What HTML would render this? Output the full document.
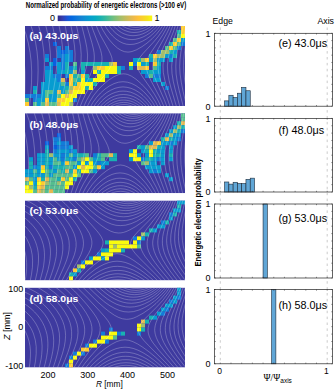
<!DOCTYPE html>
<html><head><meta charset="utf-8"><style>html,body{margin:0;padding:0;background:#fff;width:335px;height:390px;overflow:hidden}</style></head>
<body>
<svg xmlns="http://www.w3.org/2000/svg" width="335" height="390" viewBox="0 0 335 390" style="display:block">
<defs>
<linearGradient id="cb" x1="0" x2="1" y1="0" y2="0"><stop offset="0.000" stop-color="#352a87"/><stop offset="0.050" stop-color="#353eaf"/><stop offset="0.100" stop-color="#1b55d7"/><stop offset="0.150" stop-color="#036ae1"/><stop offset="0.200" stop-color="#0f77db"/><stop offset="0.250" stop-color="#1484d4"/><stop offset="0.300" stop-color="#0d93d2"/><stop offset="0.350" stop-color="#06a0cd"/><stop offset="0.400" stop-color="#07aac1"/><stop offset="0.450" stop-color="#18b1b2"/><stop offset="0.500" stop-color="#33b8a1"/><stop offset="0.550" stop-color="#55bd8e"/><stop offset="0.600" stop-color="#7abf7c"/><stop offset="0.650" stop-color="#9bbf6f"/><stop offset="0.700" stop-color="#b8bd63"/><stop offset="0.750" stop-color="#d3bb58"/><stop offset="0.800" stop-color="#ecb94c"/><stop offset="0.850" stop-color="#fec13a"/><stop offset="0.900" stop-color="#fad12b"/><stop offset="0.950" stop-color="#f5e31e"/><stop offset="1.000" stop-color="#f9fb0e"/></linearGradient>
<clipPath id="cp0"><rect x="25.0" y="26.0" width="160.0" height="80.0"/></clipPath>
<clipPath id="cp1"><rect x="25.0" y="113.2" width="160.0" height="80.0"/></clipPath>
<clipPath id="cp2"><rect x="25.0" y="200.4" width="160.0" height="80.0"/></clipPath>
<clipPath id="cp3"><rect x="25.0" y="287.6" width="160.0" height="80.0"/></clipPath>
</defs>
<rect width="335" height="390" fill="#fff"/>
<text x="25.8" y="7.5" font-size="8.7" font-weight="bold" font-family="Liberation Sans, sans-serif" textLength="160.4" lengthAdjust="spacingAndGlyphs" fill="#000">Normalized probability of energetic electrons (&gt;100 eV)</text>
<rect x="57.7" y="15.5" width="94.5" height="5.6" fill="url(#cb)"/>
<text x="52.5" y="20.7" font-size="9" font-family="Liberation Sans, sans-serif" text-anchor="middle">0</text>
<text x="157" y="20.7" font-size="9" font-family="Liberation Sans, sans-serif" text-anchor="middle">1</text>
<g clip-path="url(#cp0)">
<rect x="25.0" y="26.0" width="160.0" height="80.0" fill="#3e3a9f"/>
<rect x="181.0" y="26.0" width="4.02" height="4.02" fill="#fdcb30"/>
<rect x="177.0" y="30.0" width="4.02" height="4.02" fill="#18b1b2"/>
<rect x="181.0" y="30.0" width="4.02" height="4.02" fill="#fdcb30"/>
<rect x="177.0" y="34.0" width="4.02" height="4.02" fill="#55bd8e"/>
<rect x="181.0" y="34.0" width="4.02" height="4.02" fill="#f9fb0e"/>
<rect x="173.0" y="38.0" width="4.02" height="4.02" fill="#55bd8e"/>
<rect x="177.0" y="38.0" width="4.02" height="4.02" fill="#fdcb30"/>
<rect x="181.0" y="38.0" width="4.02" height="4.02" fill="#079cd0"/>
<rect x="53.0" y="42.0" width="4.02" height="4.02" fill="#0860df"/>
<rect x="169.0" y="42.0" width="4.02" height="4.02" fill="#18b1b2"/>
<rect x="173.0" y="42.0" width="4.02" height="4.02" fill="#fdcb30"/>
<rect x="177.0" y="42.0" width="4.02" height="4.02" fill="#55bd8e"/>
<rect x="181.0" y="42.0" width="4.02" height="4.02" fill="#127cd8"/>
<rect x="57.0" y="46.0" width="4.02" height="4.02" fill="#127cd8"/>
<rect x="65.0" y="46.0" width="4.02" height="4.02" fill="#127cd8"/>
<rect x="165.0" y="46.0" width="4.02" height="4.02" fill="#55bd8e"/>
<rect x="169.0" y="46.0" width="4.02" height="4.02" fill="#fdcb30"/>
<rect x="173.0" y="46.0" width="4.02" height="4.02" fill="#55bd8e"/>
<rect x="177.0" y="46.0" width="4.02" height="4.02" fill="#127cd8"/>
<rect x="57.0" y="50.0" width="4.02" height="4.02" fill="#127cd8"/>
<rect x="61.0" y="50.0" width="4.02" height="4.02" fill="#0860df"/>
<rect x="65.0" y="50.0" width="4.02" height="4.02" fill="#127cd8"/>
<rect x="69.0" y="50.0" width="4.02" height="4.02" fill="#127cd8"/>
<rect x="157.0" y="50.0" width="4.02" height="4.02" fill="#127cd8"/>
<rect x="161.0" y="50.0" width="4.02" height="4.02" fill="#a1be6c"/>
<rect x="165.0" y="50.0" width="4.02" height="4.02" fill="#a1be6c"/>
<rect x="169.0" y="50.0" width="4.02" height="4.02" fill="#18b1b2"/>
<rect x="173.0" y="50.0" width="4.02" height="4.02" fill="#079cd0"/>
<rect x="45.0" y="54.0" width="4.02" height="4.02" fill="#127cd8"/>
<rect x="57.0" y="54.0" width="4.02" height="4.02" fill="#127cd8"/>
<rect x="61.0" y="54.0" width="4.02" height="4.02" fill="#127cd8"/>
<rect x="65.0" y="54.0" width="4.02" height="4.02" fill="#079cd0"/>
<rect x="69.0" y="54.0" width="4.02" height="4.02" fill="#127cd8"/>
<rect x="149.0" y="54.0" width="4.02" height="4.02" fill="#18b1b2"/>
<rect x="153.0" y="54.0" width="4.02" height="4.02" fill="#fdcb30"/>
<rect x="157.0" y="54.0" width="4.02" height="4.02" fill="#a1be6c"/>
<rect x="161.0" y="54.0" width="4.02" height="4.02" fill="#a1be6c"/>
<rect x="165.0" y="54.0" width="4.02" height="4.02" fill="#079cd0"/>
<rect x="169.0" y="54.0" width="4.02" height="4.02" fill="#127cd8"/>
<rect x="173.0" y="54.0" width="4.02" height="4.02" fill="#18b1b2"/>
<rect x="45.0" y="58.0" width="4.02" height="4.02" fill="#079cd0"/>
<rect x="53.0" y="58.0" width="4.02" height="4.02" fill="#0860df"/>
<rect x="61.0" y="58.0" width="4.02" height="4.02" fill="#127cd8"/>
<rect x="65.0" y="58.0" width="4.02" height="4.02" fill="#079cd0"/>
<rect x="69.0" y="58.0" width="4.02" height="4.02" fill="#127cd8"/>
<rect x="133.0" y="58.0" width="4.02" height="4.02" fill="#079cd0"/>
<rect x="137.0" y="58.0" width="4.02" height="4.02" fill="#18b1b2"/>
<rect x="141.0" y="58.0" width="4.02" height="4.02" fill="#a1be6c"/>
<rect x="145.0" y="58.0" width="4.02" height="4.02" fill="#fdcb30"/>
<rect x="149.0" y="58.0" width="4.02" height="4.02" fill="#079cd0"/>
<rect x="153.0" y="58.0" width="4.02" height="4.02" fill="#a1be6c"/>
<rect x="157.0" y="58.0" width="4.02" height="4.02" fill="#079cd0"/>
<rect x="161.0" y="58.0" width="4.02" height="4.02" fill="#079cd0"/>
<rect x="169.0" y="58.0" width="4.02" height="4.02" fill="#079cd0"/>
<rect x="49.0" y="62.0" width="4.02" height="4.02" fill="#079cd0"/>
<rect x="53.0" y="62.0" width="4.02" height="4.02" fill="#0860df"/>
<rect x="57.0" y="62.0" width="4.02" height="4.02" fill="#079cd0"/>
<rect x="61.0" y="62.0" width="4.02" height="4.02" fill="#127cd8"/>
<rect x="65.0" y="62.0" width="4.02" height="4.02" fill="#18b1b2"/>
<rect x="73.0" y="62.0" width="4.02" height="4.02" fill="#55bd8e"/>
<rect x="81.0" y="62.0" width="4.02" height="4.02" fill="#18b1b2"/>
<rect x="85.0" y="62.0" width="4.02" height="4.02" fill="#18b1b2"/>
<rect x="89.0" y="62.0" width="4.02" height="4.02" fill="#18b1b2"/>
<rect x="93.0" y="62.0" width="4.02" height="4.02" fill="#18b1b2"/>
<rect x="97.0" y="62.0" width="4.02" height="4.02" fill="#18b1b2"/>
<rect x="101.0" y="62.0" width="4.02" height="4.02" fill="#18b1b2"/>
<rect x="105.0" y="62.0" width="4.02" height="4.02" fill="#18b1b2"/>
<rect x="109.0" y="62.0" width="4.02" height="4.02" fill="#a1be6c"/>
<rect x="113.0" y="62.0" width="4.02" height="4.02" fill="#fdcb30"/>
<rect x="129.0" y="62.0" width="4.02" height="4.02" fill="#f9fb0e"/>
<rect x="133.0" y="62.0" width="4.02" height="4.02" fill="#127cd8"/>
<rect x="137.0" y="62.0" width="4.02" height="4.02" fill="#f9fb0e"/>
<rect x="141.0" y="62.0" width="4.02" height="4.02" fill="#079cd0"/>
<rect x="145.0" y="62.0" width="4.02" height="4.02" fill="#18b1b2"/>
<rect x="153.0" y="62.0" width="4.02" height="4.02" fill="#fdcb30"/>
<rect x="157.0" y="62.0" width="4.02" height="4.02" fill="#18b1b2"/>
<rect x="45.0" y="66.0" width="4.02" height="4.02" fill="#127cd8"/>
<rect x="49.0" y="66.0" width="4.02" height="4.02" fill="#127cd8"/>
<rect x="57.0" y="66.0" width="4.02" height="4.02" fill="#079cd0"/>
<rect x="61.0" y="66.0" width="4.02" height="4.02" fill="#127cd8"/>
<rect x="65.0" y="66.0" width="4.02" height="4.02" fill="#18b1b2"/>
<rect x="69.0" y="66.0" width="4.02" height="4.02" fill="#127cd8"/>
<rect x="73.0" y="66.0" width="4.02" height="4.02" fill="#18b1b2"/>
<rect x="81.0" y="66.0" width="4.02" height="4.02" fill="#18b1b2"/>
<rect x="93.0" y="66.0" width="4.02" height="4.02" fill="#a1be6c"/>
<rect x="97.0" y="66.0" width="4.02" height="4.02" fill="#fdcb30"/>
<rect x="101.0" y="66.0" width="4.02" height="4.02" fill="#fdcb30"/>
<rect x="105.0" y="66.0" width="4.02" height="4.02" fill="#f9fb0e"/>
<rect x="109.0" y="66.0" width="4.02" height="4.02" fill="#f9fb0e"/>
<rect x="113.0" y="66.0" width="4.02" height="4.02" fill="#f9fb0e"/>
<rect x="117.0" y="66.0" width="4.02" height="4.02" fill="#18b1b2"/>
<rect x="121.0" y="66.0" width="4.02" height="4.02" fill="#127cd8"/>
<rect x="129.0" y="66.0" width="4.02" height="4.02" fill="#18b1b2"/>
<rect x="137.0" y="66.0" width="4.02" height="4.02" fill="#e2b951"/>
<rect x="141.0" y="66.0" width="4.02" height="4.02" fill="#e2b951"/>
<rect x="145.0" y="66.0" width="4.02" height="4.02" fill="#fdcb30"/>
<rect x="153.0" y="66.0" width="4.02" height="4.02" fill="#55bd8e"/>
<rect x="157.0" y="66.0" width="4.02" height="4.02" fill="#079cd0"/>
<rect x="45.0" y="70.0" width="4.02" height="4.02" fill="#079cd0"/>
<rect x="49.0" y="70.0" width="4.02" height="4.02" fill="#079cd0"/>
<rect x="57.0" y="70.0" width="4.02" height="4.02" fill="#079cd0"/>
<rect x="61.0" y="70.0" width="4.02" height="4.02" fill="#079cd0"/>
<rect x="65.0" y="70.0" width="4.02" height="4.02" fill="#18b1b2"/>
<rect x="69.0" y="70.0" width="4.02" height="4.02" fill="#079cd0"/>
<rect x="73.0" y="70.0" width="4.02" height="4.02" fill="#a1be6c"/>
<rect x="81.0" y="70.0" width="4.02" height="4.02" fill="#079cd0"/>
<rect x="93.0" y="70.0" width="4.02" height="4.02" fill="#f9fb0e"/>
<rect x="97.0" y="70.0" width="4.02" height="4.02" fill="#18b1b2"/>
<rect x="101.0" y="70.0" width="4.02" height="4.02" fill="#f9fb0e"/>
<rect x="105.0" y="70.0" width="4.02" height="4.02" fill="#f9fb0e"/>
<rect x="109.0" y="70.0" width="4.02" height="4.02" fill="#f9fb0e"/>
<rect x="113.0" y="70.0" width="4.02" height="4.02" fill="#f9fb0e"/>
<rect x="117.0" y="70.0" width="4.02" height="4.02" fill="#18b1b2"/>
<rect x="141.0" y="70.0" width="4.02" height="4.02" fill="#079cd0"/>
<rect x="145.0" y="70.0" width="4.02" height="4.02" fill="#079cd0"/>
<rect x="149.0" y="70.0" width="4.02" height="4.02" fill="#18b1b2"/>
<rect x="153.0" y="70.0" width="4.02" height="4.02" fill="#079cd0"/>
<rect x="157.0" y="70.0" width="4.02" height="4.02" fill="#079cd0"/>
<rect x="45.0" y="74.0" width="4.02" height="4.02" fill="#079cd0"/>
<rect x="49.0" y="74.0" width="4.02" height="4.02" fill="#079cd0"/>
<rect x="53.0" y="74.0" width="4.02" height="4.02" fill="#127cd8"/>
<rect x="57.0" y="74.0" width="4.02" height="4.02" fill="#127cd8"/>
<rect x="65.0" y="74.0" width="4.02" height="4.02" fill="#127cd8"/>
<rect x="69.0" y="74.0" width="4.02" height="4.02" fill="#fdcb30"/>
<rect x="73.0" y="74.0" width="4.02" height="4.02" fill="#18b1b2"/>
<rect x="77.0" y="74.0" width="4.02" height="4.02" fill="#55bd8e"/>
<rect x="81.0" y="74.0" width="4.02" height="4.02" fill="#fdcb30"/>
<rect x="85.0" y="74.0" width="4.02" height="4.02" fill="#18b1b2"/>
<rect x="97.0" y="74.0" width="4.02" height="4.02" fill="#f9fb0e"/>
<rect x="101.0" y="74.0" width="4.02" height="4.02" fill="#f9fb0e"/>
<rect x="105.0" y="74.0" width="4.02" height="4.02" fill="#18b1b2"/>
<rect x="145.0" y="74.0" width="4.02" height="4.02" fill="#127cd8"/>
<rect x="149.0" y="74.0" width="4.02" height="4.02" fill="#55bd8e"/>
<rect x="153.0" y="74.0" width="4.02" height="4.02" fill="#127cd8"/>
<rect x="157.0" y="74.0" width="4.02" height="4.02" fill="#127cd8"/>
<rect x="45.0" y="78.0" width="4.02" height="4.02" fill="#079cd0"/>
<rect x="49.0" y="78.0" width="4.02" height="4.02" fill="#079cd0"/>
<rect x="53.0" y="78.0" width="4.02" height="4.02" fill="#079cd0"/>
<rect x="57.0" y="78.0" width="4.02" height="4.02" fill="#127cd8"/>
<rect x="61.0" y="78.0" width="4.02" height="4.02" fill="#e2b951"/>
<rect x="69.0" y="78.0" width="4.02" height="4.02" fill="#fdcb30"/>
<rect x="73.0" y="78.0" width="4.02" height="4.02" fill="#55bd8e"/>
<rect x="77.0" y="78.0" width="4.02" height="4.02" fill="#18b1b2"/>
<rect x="81.0" y="78.0" width="4.02" height="4.02" fill="#f9fb0e"/>
<rect x="85.0" y="78.0" width="4.02" height="4.02" fill="#079cd0"/>
<rect x="89.0" y="78.0" width="4.02" height="4.02" fill="#18b1b2"/>
<rect x="93.0" y="78.0" width="4.02" height="4.02" fill="#f9fb0e"/>
<rect x="97.0" y="78.0" width="4.02" height="4.02" fill="#f9fb0e"/>
<rect x="101.0" y="78.0" width="4.02" height="4.02" fill="#f9fb0e"/>
<rect x="153.0" y="78.0" width="4.02" height="4.02" fill="#079cd0"/>
<rect x="157.0" y="78.0" width="4.02" height="4.02" fill="#079cd0"/>
<rect x="41.0" y="82.0" width="4.02" height="4.02" fill="#079cd0"/>
<rect x="45.0" y="82.0" width="4.02" height="4.02" fill="#079cd0"/>
<rect x="49.0" y="82.0" width="4.02" height="4.02" fill="#079cd0"/>
<rect x="53.0" y="82.0" width="4.02" height="4.02" fill="#079cd0"/>
<rect x="57.0" y="82.0" width="4.02" height="4.02" fill="#079cd0"/>
<rect x="61.0" y="82.0" width="4.02" height="4.02" fill="#55bd8e"/>
<rect x="65.0" y="82.0" width="4.02" height="4.02" fill="#127cd8"/>
<rect x="69.0" y="82.0" width="4.02" height="4.02" fill="#fdcb30"/>
<rect x="73.0" y="82.0" width="4.02" height="4.02" fill="#18b1b2"/>
<rect x="77.0" y="82.0" width="4.02" height="4.02" fill="#fdcb30"/>
<rect x="81.0" y="82.0" width="4.02" height="4.02" fill="#f9fb0e"/>
<rect x="85.0" y="82.0" width="4.02" height="4.02" fill="#f9fb0e"/>
<rect x="89.0" y="82.0" width="4.02" height="4.02" fill="#f9fb0e"/>
<rect x="93.0" y="82.0" width="4.02" height="4.02" fill="#18b1b2"/>
<rect x="161.0" y="82.0" width="4.02" height="4.02" fill="#079cd0"/>
<rect x="33.0" y="86.0" width="4.02" height="4.02" fill="#079cd0"/>
<rect x="41.0" y="86.0" width="4.02" height="4.02" fill="#079cd0"/>
<rect x="45.0" y="86.0" width="4.02" height="4.02" fill="#079cd0"/>
<rect x="49.0" y="86.0" width="4.02" height="4.02" fill="#079cd0"/>
<rect x="53.0" y="86.0" width="4.02" height="4.02" fill="#079cd0"/>
<rect x="57.0" y="86.0" width="4.02" height="4.02" fill="#079cd0"/>
<rect x="61.0" y="86.0" width="4.02" height="4.02" fill="#079cd0"/>
<rect x="65.0" y="86.0" width="4.02" height="4.02" fill="#18b1b2"/>
<rect x="69.0" y="86.0" width="4.02" height="4.02" fill="#a1be6c"/>
<rect x="73.0" y="86.0" width="4.02" height="4.02" fill="#fdcb30"/>
<rect x="77.0" y="86.0" width="4.02" height="4.02" fill="#fdcb30"/>
<rect x="81.0" y="86.0" width="4.02" height="4.02" fill="#f9fb0e"/>
<rect x="85.0" y="86.0" width="4.02" height="4.02" fill="#18b1b2"/>
<rect x="89.0" y="86.0" width="4.02" height="4.02" fill="#f9fb0e"/>
<rect x="165.0" y="86.0" width="4.02" height="4.02" fill="#127cd8"/>
<rect x="33.0" y="90.0" width="4.02" height="4.02" fill="#18b1b2"/>
<rect x="41.0" y="90.0" width="4.02" height="4.02" fill="#079cd0"/>
<rect x="45.0" y="90.0" width="4.02" height="4.02" fill="#55bd8e"/>
<rect x="49.0" y="90.0" width="4.02" height="4.02" fill="#55bd8e"/>
<rect x="53.0" y="90.0" width="4.02" height="4.02" fill="#079cd0"/>
<rect x="57.0" y="90.0" width="4.02" height="4.02" fill="#e2b951"/>
<rect x="61.0" y="90.0" width="4.02" height="4.02" fill="#079cd0"/>
<rect x="65.0" y="90.0" width="4.02" height="4.02" fill="#55bd8e"/>
<rect x="69.0" y="90.0" width="4.02" height="4.02" fill="#e2b951"/>
<rect x="73.0" y="90.0" width="4.02" height="4.02" fill="#f9fb0e"/>
<rect x="77.0" y="90.0" width="4.02" height="4.02" fill="#f9fb0e"/>
<rect x="81.0" y="90.0" width="4.02" height="4.02" fill="#f9fb0e"/>
<rect x="25.0" y="94.0" width="4.02" height="4.02" fill="#127cd8"/>
<rect x="29.0" y="94.0" width="4.02" height="4.02" fill="#127cd8"/>
<rect x="33.0" y="94.0" width="4.02" height="4.02" fill="#127cd8"/>
<rect x="37.0" y="94.0" width="4.02" height="4.02" fill="#127cd8"/>
<rect x="41.0" y="94.0" width="4.02" height="4.02" fill="#079cd0"/>
<rect x="45.0" y="94.0" width="4.02" height="4.02" fill="#55bd8e"/>
<rect x="49.0" y="94.0" width="4.02" height="4.02" fill="#079cd0"/>
<rect x="53.0" y="94.0" width="4.02" height="4.02" fill="#079cd0"/>
<rect x="57.0" y="94.0" width="4.02" height="4.02" fill="#55bd8e"/>
<rect x="61.0" y="94.0" width="4.02" height="4.02" fill="#f9fb0e"/>
<rect x="65.0" y="94.0" width="4.02" height="4.02" fill="#e2b951"/>
<rect x="69.0" y="94.0" width="4.02" height="4.02" fill="#f9fb0e"/>
<rect x="73.0" y="94.0" width="4.02" height="4.02" fill="#f9fb0e"/>
<rect x="25.0" y="98.0" width="4.02" height="4.02" fill="#55bd8e"/>
<rect x="33.0" y="98.0" width="4.02" height="4.02" fill="#127cd8"/>
<rect x="37.0" y="98.0" width="4.02" height="4.02" fill="#079cd0"/>
<rect x="41.0" y="98.0" width="4.02" height="4.02" fill="#079cd0"/>
<rect x="45.0" y="98.0" width="4.02" height="4.02" fill="#fdcb30"/>
<rect x="49.0" y="98.0" width="4.02" height="4.02" fill="#079cd0"/>
<rect x="53.0" y="98.0" width="4.02" height="4.02" fill="#079cd0"/>
<rect x="57.0" y="98.0" width="4.02" height="4.02" fill="#fdcb30"/>
<rect x="61.0" y="98.0" width="4.02" height="4.02" fill="#fdcb30"/>
<rect x="65.0" y="98.0" width="4.02" height="4.02" fill="#f9fb0e"/>
<rect x="69.0" y="98.0" width="4.02" height="4.02" fill="#f9fb0e"/>
<rect x="73.0" y="98.0" width="4.02" height="4.02" fill="#127cd8"/>
<rect x="25.0" y="102.0" width="4.02" height="4.02" fill="#fdcb30"/>
<rect x="33.0" y="102.0" width="4.02" height="4.02" fill="#55bd8e"/>
<rect x="37.0" y="102.0" width="4.02" height="4.02" fill="#079cd0"/>
<rect x="41.0" y="102.0" width="4.02" height="4.02" fill="#55bd8e"/>
<rect x="45.0" y="102.0" width="4.02" height="4.02" fill="#e2b951"/>
<rect x="49.0" y="102.0" width="4.02" height="4.02" fill="#55bd8e"/>
<rect x="53.0" y="102.0" width="4.02" height="4.02" fill="#55bd8e"/>
<rect x="57.0" y="102.0" width="4.02" height="4.02" fill="#e2b951"/>
<rect x="61.0" y="102.0" width="4.02" height="4.02" fill="#f9fb0e"/>
<rect x="65.0" y="102.0" width="4.02" height="4.02" fill="#f9fb0e"/>
<rect x="69.0" y="102.0" width="4.02" height="4.02" fill="#a1be6c"/>
<path d="M131.9,108.0 128.0,106.8 124.0,106.4 120.0,106.8 115.9,108.0M135.9,108.0 133.0,106.5 130.0,105.4 127.0,104.7 124.0,104.5 120.5,104.8 117.5,105.4 114.5,106.6 111.8,108.0M129.2,24.0 132.5,24.9 136.0,25.2 139.5,25.0 143.3,24.0M139.1,108.0 135.5,105.6 131.5,103.8 127.5,102.7 123.5,102.4 119.5,102.8 115.5,103.9 112.0,105.5 108.4,108.0M124.0,24.0 126.5,25.3 129.5,26.5 132.5,27.1 135.5,27.4 138.5,27.2 141.5,26.6 144.5,25.5 147.6,24.0M142.0,108.0 138.0,104.7 133.5,102.2 131.0,101.2 128.5,100.6 126.0,100.2 123.5,100.1 121.0,100.2 118.5,100.6 114.0,102.1 109.5,104.5 107.5,106.0 105.2,108.0M119.8,24.0 123.3,26.5 127.0,28.3 131.0,29.4 135.0,29.8 139.0,29.4 143.0,28.3 147.0,26.5 150.8,24.0M144.8,108.0 142.5,105.5 140.1,103.5 137.5,101.7 135.0,100.3 132.5,99.2 129.5,98.2 126.5,97.7 123.5,97.5 120.5,97.7 117.5,98.2 114.5,99.1 112.0,100.2 109.5,101.6 106.8,103.5 104.5,105.5 102.2,108.0M115.8,24.0 117.8,26.0 120.0,27.7 122.0,29.1 124.5,30.4 129.0,31.9 131.5,32.3 134.0,32.5 137.0,32.3 139.5,31.9 142.0,31.2 144.5,30.2 147.0,29.0 149.5,27.4 153.7,24.0M147.6,108.0 145.1,105.0 142.5,102.4 139.5,100.0 136.5,98.1 133.5,96.6 130.0,95.4 127.0,94.8 123.5,94.5 120.0,94.7 117.0,95.3 114.0,96.3 110.5,97.9 107.5,99.8 104.5,102.1 101.6,105.0 99.1,108.0M111.9,24.0 114.0,26.5 116.5,29.0 119.0,31.0 121.5,32.6 124.0,33.8 127.0,34.9 130.0,35.5 133.0,35.7 136.0,35.5 139.5,34.9 142.5,33.9 145.5,32.6 148.5,30.8 151.5,28.6 154.0,26.4 156.3,24.0M150.3,108.0 147.5,104.1 144.5,100.8 141.0,97.7 137.5,95.3 134.0,93.5 130.5,92.1 126.5,91.3 123.0,91.1 119.5,91.3 115.5,92.3 112.0,93.6 108.5,95.5 105.0,98.0 101.7,101.0 98.6,104.5 96.1,108.0M108.0,24.0 110.4,27.5 113.0,30.5 116.0,33.4 119.0,35.6 122.0,37.3 125.5,38.6 128.5,39.3 132.0,39.6 135.5,39.3 139.5,38.3 143.0,37.0 146.5,35.2 150.0,32.9 153.0,30.4 156.0,27.4 158.8,24.0M153.1,108.0 150.0,103.3 146.5,99.0 143.0,95.5 139.0,92.4 135.0,90.0 131.0,88.3 127.0,87.3 123.0,86.9 119.0,87.3 115.0,88.3 110.5,90.3 106.5,92.7 102.5,95.9 99.0,99.5 95.8,103.5 93.0,108.0M104.0,24.0 106.5,28.3 109.5,32.5 112.5,35.9 116.0,39.1 119.5,41.5 123.0,43.2 126.5,44.2 130.0,44.5 134.0,44.2 138.0,43.1 142.5,41.2 146.5,38.9 150.5,36.0 154.5,32.4 158.0,28.5 161.2,24.0M155.8,108.0 152.7,102.5 149.0,97.5 145.0,93.0 140.5,88.9 136.0,85.7 131.5,83.4 127.5,82.2 123.0,81.7 118.5,82.2 114.0,83.6 109.5,85.9 105.0,89.0 100.5,93.0 96.5,97.5 92.9,102.5 89.8,108.0M99.9,24.0 102.8,30.0 106.0,35.2 109.5,40.0 113.5,44.5 117.5,48.1 121.0,50.3 124.5,51.7 128.0,52.1 130.0,51.9 132.0,51.5 136.5,49.8 142.0,46.7 147.0,43.1 152.0,38.8 156.5,34.1 160.5,29.0 163.7,24.0M158.7,108.0 155.5,101.9 151.5,95.7 146.5,89.3 141.5,84.0 136.0,79.2 131.5,76.2 127.5,74.4 125.5,74.0 123.5,73.8 121.5,74.0 119.0,74.5 116.5,75.5 114.0,76.7 108.5,80.2 103.0,84.8 98.0,90.0 93.5,95.7 89.8,101.5 86.5,108.0M95.6,24.0 97.8,29.5 100.3,35.0 108.6,50.0 110.5,54.0 111.5,56.5 112.0,58.5 112.2,60.5 112.1,62.5 111.7,64.0 111.0,66.0 108.9,69.5 106.3,73.0 96.5,84.9 90.8,93.0 86.5,100.5 83.1,108.0M161.5,108.0 158.5,101.4 154.5,94.3 150.5,88.2 142.3,76.5 139.8,72.5 138.5,70.0 137.8,68.0 137.4,66.0 137.3,64.0 137.6,62.0 138.2,60.5 140.2,57.0 143.0,53.5 153.0,42.7 158.0,36.8 162.5,30.4 166.1,24.0M91.0,24.0 93.2,30.5 98.8,45.0 100.7,50.5 101.4,53.5 101.9,56.5 102.0,59.5 101.8,62.0 100.8,66.5 98.9,71.0 96.5,75.5 89.5,87.2 85.7,94.0 82.4,101.0 79.6,108.0M164.5,108.0 162.4,103.0 160.0,97.7 151.4,81.5 148.7,76.0 147.6,73.0 146.8,70.0 146.4,67.5 146.3,65.0 146.6,62.5 147.2,60.0 148.2,57.5 149.4,55.0 152.2,50.5 159.5,39.9 163.0,34.5 166.0,29.2 168.5,24.0M86.3,24.0 91.8,42.5 93.4,49.0 94.0,52.5 94.3,56.0 94.3,59.0 94.1,62.0 93.1,67.0 91.2,72.5 89.1,77.5 80.6,95.5 78.0,102.0 76.0,108.0M167.5,108.0 164.2,99.5 157.1,83.5 154.8,77.5 153.8,74.0 153.1,71.0 152.8,68.0 152.7,65.5 153.0,63.0 153.5,60.0 154.5,57.0 155.7,54.0 158.4,48.5 166.7,33.5 169.0,28.7 170.9,24.0M81.3,24.0 85.3,40.0 86.8,47.5 87.6,55.0 87.3,61.5 86.3,67.5 84.6,73.5 82.7,79.0 75.9,96.5 72.2,108.0M170.5,108.0 167.8,100.0 161.9,84.5 160.1,79.0 159.2,75.5 158.5,72.0 158.2,68.5 158.1,65.5 158.4,62.5 158.9,59.5 160.7,53.5 163.2,47.5 170.0,32.9 173.4,24.0M76.1,24.0 79.1,38.0 80.6,46.5 81.2,54.5 81.0,61.5 80.1,67.5 78.5,74.5 71.1,97.5 68.2,108.0M173.7,108.0 166.6,86.5 164.8,80.0 163.3,72.5 163.0,66.0 163.2,63.0 163.7,59.5 165.3,53.0 167.4,47.0 173.3,32.0 175.9,24.0M70.6,24.0 73.2,37.0 74.5,46.0 75.1,54.0 74.9,61.5 74.1,68.0 72.6,75.5 66.3,99.0 64.1,108.0M176.9,108.0 171.0,88.0 169.1,80.5 167.8,73.0 167.4,66.0 168.0,59.5 169.5,52.5 171.3,46.5 176.3,31.5 178.5,24.0M64.8,24.0 67.0,35.5 68.4,45.0 69.0,53.5 68.8,61.5 68.2,68.5 66.8,76.5 59.8,108.0M180.2,108.0 175.2,89.5 173.3,81.5 172.0,73.5 171.7,66.5 172.2,59.5 173.4,52.5 175.0,46.0 179.5,30.5 181.1,24.0M58.7,24.0 60.9,35.0 62.2,44.5 62.9,53.0 62.8,61.5 62.3,69.0 61.1,77.5 55.3,108.0M183.6,108.0 179.2,90.5 177.3,82.0 176.1,74.0 175.8,66.5 176.1,59.5 177.2,52.0 183.7,24.0M52.2,24.0 54.4,34.5 55.9,44.0 56.7,53.0 56.8,61.5 56.4,69.5 55.4,78.5 50.6,108.0M187.0,107.9 183.1,91.5 181.3,82.5 180.1,74.0 179.7,66.5 180.0,59.5 180.9,52.0 186.4,24.0M45.4,24.0 47.8,34.0 49.4,43.5 50.3,52.5 50.7,61.5 50.4,70.0 49.6,79.5 48.4,89.5 45.6,108.0M187.0,92.4 185.4,84.5 184.4,78.0 183.8,71.5 183.6,65.5 183.8,59.5 184.4,53.0 185.4,46.0 187.0,36.8M38.2,24.0 40.6,33.0 42.5,42.5 43.8,52.0 44.4,61.5 44.3,70.5 43.7,80.5 42.6,91.5 40.5,108.0M30.4,24.0 33.3,33.0 35.5,42.0 37.0,51.5 37.9,61.0 38.1,70.5 37.8,81.0 36.8,93.0 35.1,108.0M23.0,25.9 26.0,34.3 28.3,43.0 30.1,52.5 31.2,62.0 31.7,72.0 31.5,82.5 30.8,94.0 29.4,108.0M23.0,53.3 23.9,59.0 24.5,65.0 25.0,71.5 25.1,78.0 24.8,92.0 23.4,108.0" fill="none" stroke="#ffffff" stroke-opacity="0.5" stroke-width="0.5"/>
</g>
<text x="29.4" y="38.8" font-size="9.7" font-weight="bold" font-family="Liberation Sans, sans-serif" fill="#fff" textLength="49" lengthAdjust="spacingAndGlyphs">(a) 43.0μs</text>
<g clip-path="url(#cp1)">
<rect x="25.0" y="113.2" width="160.0" height="80.0" fill="#3e3a9f"/>
<rect x="181.0" y="113.2" width="4.02" height="4.02" fill="#55bd8e"/>
<rect x="181.0" y="117.2" width="4.02" height="4.02" fill="#55bd8e"/>
<rect x="177.0" y="121.2" width="4.02" height="4.02" fill="#18b1b2"/>
<rect x="181.0" y="121.2" width="4.02" height="4.02" fill="#e2b951"/>
<rect x="173.0" y="125.2" width="4.02" height="4.02" fill="#079cd0"/>
<rect x="177.0" y="125.2" width="4.02" height="4.02" fill="#a1be6c"/>
<rect x="181.0" y="125.2" width="4.02" height="4.02" fill="#18b1b2"/>
<rect x="169.0" y="129.2" width="4.02" height="4.02" fill="#079cd0"/>
<rect x="173.0" y="129.2" width="4.02" height="4.02" fill="#a1be6c"/>
<rect x="177.0" y="129.2" width="4.02" height="4.02" fill="#18b1b2"/>
<rect x="181.0" y="129.2" width="4.02" height="4.02" fill="#127cd8"/>
<rect x="57.0" y="133.2" width="4.02" height="4.02" fill="#0860df"/>
<rect x="165.0" y="133.2" width="4.02" height="4.02" fill="#079cd0"/>
<rect x="169.0" y="133.2" width="4.02" height="4.02" fill="#a1be6c"/>
<rect x="173.0" y="133.2" width="4.02" height="4.02" fill="#079cd0"/>
<rect x="177.0" y="133.2" width="4.02" height="4.02" fill="#079cd0"/>
<rect x="53.0" y="137.2" width="4.02" height="4.02" fill="#127cd8"/>
<rect x="57.0" y="137.2" width="4.02" height="4.02" fill="#127cd8"/>
<rect x="161.0" y="137.2" width="4.02" height="4.02" fill="#18b1b2"/>
<rect x="165.0" y="137.2" width="4.02" height="4.02" fill="#e2b951"/>
<rect x="169.0" y="137.2" width="4.02" height="4.02" fill="#18b1b2"/>
<rect x="173.0" y="137.2" width="4.02" height="4.02" fill="#079cd0"/>
<rect x="177.0" y="137.2" width="4.02" height="4.02" fill="#127cd8"/>
<rect x="45.0" y="141.2" width="4.02" height="4.02" fill="#0860df"/>
<rect x="53.0" y="141.2" width="4.02" height="4.02" fill="#127cd8"/>
<rect x="57.0" y="141.2" width="4.02" height="4.02" fill="#079cd0"/>
<rect x="61.0" y="141.2" width="4.02" height="4.02" fill="#127cd8"/>
<rect x="65.0" y="141.2" width="4.02" height="4.02" fill="#127cd8"/>
<rect x="149.0" y="141.2" width="4.02" height="4.02" fill="#079cd0"/>
<rect x="153.0" y="141.2" width="4.02" height="4.02" fill="#e2b951"/>
<rect x="157.0" y="141.2" width="4.02" height="4.02" fill="#fdcb30"/>
<rect x="161.0" y="141.2" width="4.02" height="4.02" fill="#079cd0"/>
<rect x="165.0" y="141.2" width="4.02" height="4.02" fill="#079cd0"/>
<rect x="169.0" y="141.2" width="4.02" height="4.02" fill="#127cd8"/>
<rect x="173.0" y="141.2" width="4.02" height="4.02" fill="#079cd0"/>
<rect x="45.0" y="145.2" width="4.02" height="4.02" fill="#079cd0"/>
<rect x="53.0" y="145.2" width="4.02" height="4.02" fill="#0860df"/>
<rect x="57.0" y="145.2" width="4.02" height="4.02" fill="#127cd8"/>
<rect x="61.0" y="145.2" width="4.02" height="4.02" fill="#127cd8"/>
<rect x="65.0" y="145.2" width="4.02" height="4.02" fill="#127cd8"/>
<rect x="69.0" y="145.2" width="4.02" height="4.02" fill="#079cd0"/>
<rect x="137.0" y="145.2" width="4.02" height="4.02" fill="#18b1b2"/>
<rect x="141.0" y="145.2" width="4.02" height="4.02" fill="#079cd0"/>
<rect x="145.0" y="145.2" width="4.02" height="4.02" fill="#55bd8e"/>
<rect x="149.0" y="145.2" width="4.02" height="4.02" fill="#e2b951"/>
<rect x="153.0" y="145.2" width="4.02" height="4.02" fill="#e2b951"/>
<rect x="157.0" y="145.2" width="4.02" height="4.02" fill="#18b1b2"/>
<rect x="161.0" y="145.2" width="4.02" height="4.02" fill="#079cd0"/>
<rect x="169.0" y="145.2" width="4.02" height="4.02" fill="#079cd0"/>
<rect x="45.0" y="149.2" width="4.02" height="4.02" fill="#18b1b2"/>
<rect x="53.0" y="149.2" width="4.02" height="4.02" fill="#127cd8"/>
<rect x="57.0" y="149.2" width="4.02" height="4.02" fill="#079cd0"/>
<rect x="61.0" y="149.2" width="4.02" height="4.02" fill="#079cd0"/>
<rect x="65.0" y="149.2" width="4.02" height="4.02" fill="#079cd0"/>
<rect x="69.0" y="149.2" width="4.02" height="4.02" fill="#127cd8"/>
<rect x="73.0" y="149.2" width="4.02" height="4.02" fill="#079cd0"/>
<rect x="129.0" y="149.2" width="4.02" height="4.02" fill="#079cd0"/>
<rect x="133.0" y="149.2" width="4.02" height="4.02" fill="#f9fb0e"/>
<rect x="141.0" y="149.2" width="4.02" height="4.02" fill="#079cd0"/>
<rect x="145.0" y="149.2" width="4.02" height="4.02" fill="#18b1b2"/>
<rect x="149.0" y="149.2" width="4.02" height="4.02" fill="#f9fb0e"/>
<rect x="153.0" y="149.2" width="4.02" height="4.02" fill="#18b1b2"/>
<rect x="157.0" y="149.2" width="4.02" height="4.02" fill="#079cd0"/>
<rect x="161.0" y="149.2" width="4.02" height="4.02" fill="#079cd0"/>
<rect x="169.0" y="149.2" width="4.02" height="4.02" fill="#079cd0"/>
<rect x="37.0" y="153.2" width="4.02" height="4.02" fill="#079cd0"/>
<rect x="41.0" y="153.2" width="4.02" height="4.02" fill="#079cd0"/>
<rect x="45.0" y="153.2" width="4.02" height="4.02" fill="#18b1b2"/>
<rect x="49.0" y="153.2" width="4.02" height="4.02" fill="#a1be6c"/>
<rect x="53.0" y="153.2" width="4.02" height="4.02" fill="#079cd0"/>
<rect x="57.0" y="153.2" width="4.02" height="4.02" fill="#079cd0"/>
<rect x="61.0" y="153.2" width="4.02" height="4.02" fill="#127cd8"/>
<rect x="65.0" y="153.2" width="4.02" height="4.02" fill="#079cd0"/>
<rect x="69.0" y="153.2" width="4.02" height="4.02" fill="#55bd8e"/>
<rect x="73.0" y="153.2" width="4.02" height="4.02" fill="#079cd0"/>
<rect x="77.0" y="153.2" width="4.02" height="4.02" fill="#18b1b2"/>
<rect x="81.0" y="153.2" width="4.02" height="4.02" fill="#18b1b2"/>
<rect x="85.0" y="153.2" width="4.02" height="4.02" fill="#55bd8e"/>
<rect x="93.0" y="153.2" width="4.02" height="4.02" fill="#127cd8"/>
<rect x="97.0" y="153.2" width="4.02" height="4.02" fill="#18b1b2"/>
<rect x="101.0" y="153.2" width="4.02" height="4.02" fill="#55bd8e"/>
<rect x="105.0" y="153.2" width="4.02" height="4.02" fill="#55bd8e"/>
<rect x="109.0" y="153.2" width="4.02" height="4.02" fill="#e2b951"/>
<rect x="113.0" y="153.2" width="4.02" height="4.02" fill="#18b1b2"/>
<rect x="129.0" y="153.2" width="4.02" height="4.02" fill="#f9fb0e"/>
<rect x="133.0" y="153.2" width="4.02" height="4.02" fill="#f9fb0e"/>
<rect x="137.0" y="153.2" width="4.02" height="4.02" fill="#079cd0"/>
<rect x="145.0" y="153.2" width="4.02" height="4.02" fill="#079cd0"/>
<rect x="149.0" y="153.2" width="4.02" height="4.02" fill="#f9fb0e"/>
<rect x="153.0" y="153.2" width="4.02" height="4.02" fill="#18b1b2"/>
<rect x="157.0" y="153.2" width="4.02" height="4.02" fill="#18b1b2"/>
<rect x="161.0" y="153.2" width="4.02" height="4.02" fill="#079cd0"/>
<rect x="169.0" y="153.2" width="4.02" height="4.02" fill="#18b1b2"/>
<rect x="29.0" y="157.2" width="4.02" height="4.02" fill="#079cd0"/>
<rect x="37.0" y="157.2" width="4.02" height="4.02" fill="#079cd0"/>
<rect x="41.0" y="157.2" width="4.02" height="4.02" fill="#079cd0"/>
<rect x="45.0" y="157.2" width="4.02" height="4.02" fill="#18b1b2"/>
<rect x="49.0" y="157.2" width="4.02" height="4.02" fill="#079cd0"/>
<rect x="53.0" y="157.2" width="4.02" height="4.02" fill="#55bd8e"/>
<rect x="57.0" y="157.2" width="4.02" height="4.02" fill="#079cd0"/>
<rect x="61.0" y="157.2" width="4.02" height="4.02" fill="#127cd8"/>
<rect x="65.0" y="157.2" width="4.02" height="4.02" fill="#18b1b2"/>
<rect x="69.0" y="157.2" width="4.02" height="4.02" fill="#079cd0"/>
<rect x="73.0" y="157.2" width="4.02" height="4.02" fill="#127cd8"/>
<rect x="77.0" y="157.2" width="4.02" height="4.02" fill="#55bd8e"/>
<rect x="81.0" y="157.2" width="4.02" height="4.02" fill="#a1be6c"/>
<rect x="85.0" y="157.2" width="4.02" height="4.02" fill="#f9fb0e"/>
<rect x="89.0" y="157.2" width="4.02" height="4.02" fill="#55bd8e"/>
<rect x="93.0" y="157.2" width="4.02" height="4.02" fill="#079cd0"/>
<rect x="97.0" y="157.2" width="4.02" height="4.02" fill="#18b1b2"/>
<rect x="101.0" y="157.2" width="4.02" height="4.02" fill="#55bd8e"/>
<rect x="109.0" y="157.2" width="4.02" height="4.02" fill="#18b1b2"/>
<rect x="113.0" y="157.2" width="4.02" height="4.02" fill="#18b1b2"/>
<rect x="129.0" y="157.2" width="4.02" height="4.02" fill="#079cd0"/>
<rect x="133.0" y="157.2" width="4.02" height="4.02" fill="#f9fb0e"/>
<rect x="137.0" y="157.2" width="4.02" height="4.02" fill="#f9fb0e"/>
<rect x="141.0" y="157.2" width="4.02" height="4.02" fill="#127cd8"/>
<rect x="145.0" y="157.2" width="4.02" height="4.02" fill="#18b1b2"/>
<rect x="149.0" y="157.2" width="4.02" height="4.02" fill="#18b1b2"/>
<rect x="153.0" y="157.2" width="4.02" height="4.02" fill="#079cd0"/>
<rect x="157.0" y="157.2" width="4.02" height="4.02" fill="#127cd8"/>
<rect x="161.0" y="157.2" width="4.02" height="4.02" fill="#079cd0"/>
<rect x="169.0" y="157.2" width="4.02" height="4.02" fill="#079cd0"/>
<rect x="29.0" y="161.2" width="4.02" height="4.02" fill="#18b1b2"/>
<rect x="37.0" y="161.2" width="4.02" height="4.02" fill="#079cd0"/>
<rect x="41.0" y="161.2" width="4.02" height="4.02" fill="#079cd0"/>
<rect x="45.0" y="161.2" width="4.02" height="4.02" fill="#18b1b2"/>
<rect x="49.0" y="161.2" width="4.02" height="4.02" fill="#079cd0"/>
<rect x="53.0" y="161.2" width="4.02" height="4.02" fill="#55bd8e"/>
<rect x="57.0" y="161.2" width="4.02" height="4.02" fill="#55bd8e"/>
<rect x="61.0" y="161.2" width="4.02" height="4.02" fill="#079cd0"/>
<rect x="65.0" y="161.2" width="4.02" height="4.02" fill="#fdcb30"/>
<rect x="69.0" y="161.2" width="4.02" height="4.02" fill="#55bd8e"/>
<rect x="73.0" y="161.2" width="4.02" height="4.02" fill="#55bd8e"/>
<rect x="77.0" y="161.2" width="4.02" height="4.02" fill="#079cd0"/>
<rect x="81.0" y="161.2" width="4.02" height="4.02" fill="#f9fb0e"/>
<rect x="85.0" y="161.2" width="4.02" height="4.02" fill="#079cd0"/>
<rect x="89.0" y="161.2" width="4.02" height="4.02" fill="#f9fb0e"/>
<rect x="93.0" y="161.2" width="4.02" height="4.02" fill="#079cd0"/>
<rect x="97.0" y="161.2" width="4.02" height="4.02" fill="#127cd8"/>
<rect x="101.0" y="161.2" width="4.02" height="4.02" fill="#079cd0"/>
<rect x="105.0" y="161.2" width="4.02" height="4.02" fill="#079cd0"/>
<rect x="141.0" y="161.2" width="4.02" height="4.02" fill="#55bd8e"/>
<rect x="145.0" y="161.2" width="4.02" height="4.02" fill="#a1be6c"/>
<rect x="149.0" y="161.2" width="4.02" height="4.02" fill="#079cd0"/>
<rect x="153.0" y="161.2" width="4.02" height="4.02" fill="#079cd0"/>
<rect x="161.0" y="161.2" width="4.02" height="4.02" fill="#079cd0"/>
<rect x="29.0" y="165.2" width="4.02" height="4.02" fill="#18b1b2"/>
<rect x="33.0" y="165.2" width="4.02" height="4.02" fill="#127cd8"/>
<rect x="37.0" y="165.2" width="4.02" height="4.02" fill="#079cd0"/>
<rect x="41.0" y="165.2" width="4.02" height="4.02" fill="#fdcb30"/>
<rect x="45.0" y="165.2" width="4.02" height="4.02" fill="#18b1b2"/>
<rect x="49.0" y="165.2" width="4.02" height="4.02" fill="#127cd8"/>
<rect x="53.0" y="165.2" width="4.02" height="4.02" fill="#18b1b2"/>
<rect x="57.0" y="165.2" width="4.02" height="4.02" fill="#18b1b2"/>
<rect x="61.0" y="165.2" width="4.02" height="4.02" fill="#18b1b2"/>
<rect x="65.0" y="165.2" width="4.02" height="4.02" fill="#55bd8e"/>
<rect x="69.0" y="165.2" width="4.02" height="4.02" fill="#55bd8e"/>
<rect x="73.0" y="165.2" width="4.02" height="4.02" fill="#079cd0"/>
<rect x="77.0" y="165.2" width="4.02" height="4.02" fill="#f9fb0e"/>
<rect x="81.0" y="165.2" width="4.02" height="4.02" fill="#e2b951"/>
<rect x="85.0" y="165.2" width="4.02" height="4.02" fill="#f9fb0e"/>
<rect x="89.0" y="165.2" width="4.02" height="4.02" fill="#f9fb0e"/>
<rect x="93.0" y="165.2" width="4.02" height="4.02" fill="#55bd8e"/>
<rect x="97.0" y="165.2" width="4.02" height="4.02" fill="#fdcb30"/>
<rect x="101.0" y="165.2" width="4.02" height="4.02" fill="#079cd0"/>
<rect x="145.0" y="165.2" width="4.02" height="4.02" fill="#079cd0"/>
<rect x="149.0" y="165.2" width="4.02" height="4.02" fill="#079cd0"/>
<rect x="153.0" y="165.2" width="4.02" height="4.02" fill="#079cd0"/>
<rect x="157.0" y="165.2" width="4.02" height="4.02" fill="#079cd0"/>
<rect x="25.0" y="169.2" width="4.02" height="4.02" fill="#079cd0"/>
<rect x="29.0" y="169.2" width="4.02" height="4.02" fill="#079cd0"/>
<rect x="33.0" y="169.2" width="4.02" height="4.02" fill="#55bd8e"/>
<rect x="37.0" y="169.2" width="4.02" height="4.02" fill="#079cd0"/>
<rect x="41.0" y="169.2" width="4.02" height="4.02" fill="#f9fb0e"/>
<rect x="45.0" y="169.2" width="4.02" height="4.02" fill="#55bd8e"/>
<rect x="49.0" y="169.2" width="4.02" height="4.02" fill="#18b1b2"/>
<rect x="53.0" y="169.2" width="4.02" height="4.02" fill="#079cd0"/>
<rect x="57.0" y="169.2" width="4.02" height="4.02" fill="#55bd8e"/>
<rect x="61.0" y="169.2" width="4.02" height="4.02" fill="#18b1b2"/>
<rect x="65.0" y="169.2" width="4.02" height="4.02" fill="#e2b951"/>
<rect x="69.0" y="169.2" width="4.02" height="4.02" fill="#18b1b2"/>
<rect x="73.0" y="169.2" width="4.02" height="4.02" fill="#fdcb30"/>
<rect x="77.0" y="169.2" width="4.02" height="4.02" fill="#18b1b2"/>
<rect x="81.0" y="169.2" width="4.02" height="4.02" fill="#f9fb0e"/>
<rect x="85.0" y="169.2" width="4.02" height="4.02" fill="#f9fb0e"/>
<rect x="89.0" y="169.2" width="4.02" height="4.02" fill="#55bd8e"/>
<rect x="93.0" y="169.2" width="4.02" height="4.02" fill="#079cd0"/>
<rect x="149.0" y="169.2" width="4.02" height="4.02" fill="#079cd0"/>
<rect x="153.0" y="169.2" width="4.02" height="4.02" fill="#127cd8"/>
<rect x="157.0" y="169.2" width="4.02" height="4.02" fill="#079cd0"/>
<rect x="25.0" y="173.2" width="4.02" height="4.02" fill="#079cd0"/>
<rect x="29.0" y="173.2" width="4.02" height="4.02" fill="#079cd0"/>
<rect x="33.0" y="173.2" width="4.02" height="4.02" fill="#18b1b2"/>
<rect x="37.0" y="173.2" width="4.02" height="4.02" fill="#079cd0"/>
<rect x="41.0" y="173.2" width="4.02" height="4.02" fill="#079cd0"/>
<rect x="45.0" y="173.2" width="4.02" height="4.02" fill="#55bd8e"/>
<rect x="49.0" y="173.2" width="4.02" height="4.02" fill="#079cd0"/>
<rect x="53.0" y="173.2" width="4.02" height="4.02" fill="#55bd8e"/>
<rect x="57.0" y="173.2" width="4.02" height="4.02" fill="#55bd8e"/>
<rect x="61.0" y="173.2" width="4.02" height="4.02" fill="#55bd8e"/>
<rect x="65.0" y="173.2" width="4.02" height="4.02" fill="#55bd8e"/>
<rect x="69.0" y="173.2" width="4.02" height="4.02" fill="#55bd8e"/>
<rect x="73.0" y="173.2" width="4.02" height="4.02" fill="#f9fb0e"/>
<rect x="77.0" y="173.2" width="4.02" height="4.02" fill="#55bd8e"/>
<rect x="165.0" y="173.2" width="4.02" height="4.02" fill="#079cd0"/>
<rect x="25.0" y="177.2" width="4.02" height="4.02" fill="#e2b951"/>
<rect x="29.0" y="177.2" width="4.02" height="4.02" fill="#55bd8e"/>
<rect x="33.0" y="177.2" width="4.02" height="4.02" fill="#079cd0"/>
<rect x="37.0" y="177.2" width="4.02" height="4.02" fill="#fdcb30"/>
<rect x="41.0" y="177.2" width="4.02" height="4.02" fill="#18b1b2"/>
<rect x="45.0" y="177.2" width="4.02" height="4.02" fill="#e2b951"/>
<rect x="49.0" y="177.2" width="4.02" height="4.02" fill="#55bd8e"/>
<rect x="53.0" y="177.2" width="4.02" height="4.02" fill="#55bd8e"/>
<rect x="57.0" y="177.2" width="4.02" height="4.02" fill="#18b1b2"/>
<rect x="61.0" y="177.2" width="4.02" height="4.02" fill="#fdcb30"/>
<rect x="65.0" y="177.2" width="4.02" height="4.02" fill="#55bd8e"/>
<rect x="69.0" y="177.2" width="4.02" height="4.02" fill="#f9fb0e"/>
<rect x="73.0" y="177.2" width="4.02" height="4.02" fill="#18b1b2"/>
<rect x="169.0" y="177.2" width="4.02" height="4.02" fill="#079cd0"/>
<rect x="25.0" y="181.2" width="4.02" height="4.02" fill="#55bd8e"/>
<rect x="29.0" y="181.2" width="4.02" height="4.02" fill="#f9fb0e"/>
<rect x="33.0" y="181.2" width="4.02" height="4.02" fill="#079cd0"/>
<rect x="37.0" y="181.2" width="4.02" height="4.02" fill="#f9fb0e"/>
<rect x="41.0" y="181.2" width="4.02" height="4.02" fill="#fdcb30"/>
<rect x="45.0" y="181.2" width="4.02" height="4.02" fill="#a1be6c"/>
<rect x="49.0" y="181.2" width="4.02" height="4.02" fill="#55bd8e"/>
<rect x="53.0" y="181.2" width="4.02" height="4.02" fill="#55bd8e"/>
<rect x="57.0" y="181.2" width="4.02" height="4.02" fill="#a1be6c"/>
<rect x="61.0" y="181.2" width="4.02" height="4.02" fill="#55bd8e"/>
<rect x="65.0" y="181.2" width="4.02" height="4.02" fill="#f9fb0e"/>
<rect x="69.0" y="181.2" width="4.02" height="4.02" fill="#f9fb0e"/>
<rect x="25.0" y="185.2" width="4.02" height="4.02" fill="#f9fb0e"/>
<rect x="29.0" y="185.2" width="4.02" height="4.02" fill="#a1be6c"/>
<rect x="33.0" y="185.2" width="4.02" height="4.02" fill="#18b1b2"/>
<rect x="37.0" y="185.2" width="4.02" height="4.02" fill="#fdcb30"/>
<rect x="41.0" y="185.2" width="4.02" height="4.02" fill="#e2b951"/>
<rect x="45.0" y="185.2" width="4.02" height="4.02" fill="#55bd8e"/>
<rect x="49.0" y="185.2" width="4.02" height="4.02" fill="#55bd8e"/>
<rect x="53.0" y="185.2" width="4.02" height="4.02" fill="#55bd8e"/>
<rect x="57.0" y="185.2" width="4.02" height="4.02" fill="#55bd8e"/>
<rect x="61.0" y="185.2" width="4.02" height="4.02" fill="#55bd8e"/>
<rect x="65.0" y="185.2" width="4.02" height="4.02" fill="#f9fb0e"/>
<rect x="25.0" y="189.2" width="4.02" height="4.02" fill="#f9fb0e"/>
<rect x="29.0" y="189.2" width="4.02" height="4.02" fill="#f9fb0e"/>
<rect x="33.0" y="189.2" width="4.02" height="4.02" fill="#55bd8e"/>
<rect x="37.0" y="189.2" width="4.02" height="4.02" fill="#e2b951"/>
<rect x="41.0" y="189.2" width="4.02" height="4.02" fill="#a1be6c"/>
<rect x="45.0" y="189.2" width="4.02" height="4.02" fill="#55bd8e"/>
<rect x="49.0" y="189.2" width="4.02" height="4.02" fill="#e2b951"/>
<rect x="53.0" y="189.2" width="4.02" height="4.02" fill="#55bd8e"/>
<rect x="57.0" y="189.2" width="4.02" height="4.02" fill="#55bd8e"/>
<rect x="61.0" y="189.2" width="4.02" height="4.02" fill="#55bd8e"/>
<path d="M133.9,111.2 134.8,111.2M126.6,111.2 130.0,112.3 134.0,112.8 138.0,112.4 141.6,111.2M122.7,111.2 125.5,112.7 128.0,113.7 130.5,114.2 133.5,114.5 136.5,114.3 139.5,113.6 142.5,112.5 144.8,111.2M119.4,111.2 122.5,113.4 126.0,115.1 129.5,116.1 133.0,116.4 137.0,116.1 140.5,115.1 144.0,113.5 147.4,111.2M129.1,195.2 125.0,194.0 120.5,193.6 116.5,194.0 112.4,195.2M116.2,111.2 119.5,114.1 123.5,116.5 125.5,117.3 128.0,118.0 132.5,118.5 137.0,118.1 141.5,116.7 144.0,115.5 146.0,114.3 149.7,111.2M133.9,195.2 130.5,193.4 127.5,192.3 124.0,191.6 120.5,191.3 117.0,191.6 113.5,192.4 110.5,193.5 107.3,195.2M113.0,111.2 115.0,113.5 117.0,115.4 119.0,116.9 121.5,118.4 124.0,119.5 126.5,120.3 129.0,120.7 132.0,120.9 134.5,120.8 137.5,120.3 140.0,119.5 142.5,118.5 145.0,117.1 147.5,115.4 150.0,113.3 152.0,111.2M137.7,195.2 134.0,192.6 129.5,190.4 125.0,189.1 120.5,188.7 116.0,189.1 111.5,190.4 107.0,192.6 103.3,195.2M109.7,111.2 111.6,113.7 114.0,116.4 116.5,118.5 119.5,120.5 122.0,121.8 125.0,122.8 128.0,123.5 131.0,123.7 134.0,123.5 137.5,122.8 140.5,121.8 143.5,120.4 146.5,118.6 149.5,116.3 152.0,113.8 154.1,111.2M141.1,195.2 139.0,193.2 136.5,191.2 134.0,189.6 131.5,188.3 129.0,187.3 126.0,186.4 123.5,185.9 120.5,185.7 117.5,185.9 115.0,186.3 112.5,187.0 109.5,188.1 107.0,189.4 104.5,191.0 102.0,192.9 99.5,195.2M106.4,111.2 108.5,114.6 111.0,117.7 114.0,120.6 117.0,122.9 120.0,124.5 123.5,125.9 126.5,126.6 130.0,126.9 133.5,126.6 137.0,125.9 141.0,124.5 144.5,122.6 148.0,120.2 151.0,117.6 153.7,114.7 156.2,111.2M144.4,195.2 142.0,192.5 139.0,189.8 136.0,187.5 133.0,185.7 129.5,184.0 126.5,183.1 123.5,182.5 120.0,182.3 117.0,182.5 114.0,183.1 111.0,184.0 107.5,185.6 104.5,187.4 101.5,189.6 98.5,192.4 96.0,195.2M102.9,111.2 105.4,115.7 108.0,119.4 111.0,122.7 114.5,125.7 118.0,128.0 121.5,129.5 125.0,130.4 129.0,130.7 133.0,130.4 137.0,129.4 141.5,127.5 145.5,125.1 149.0,122.5 152.5,119.1 155.8,115.2 158.4,111.2M147.5,195.2 144.5,191.3 141.5,188.1 138.0,185.1 134.5,182.6 131.0,180.7 127.5,179.3 124.0,178.5 120.0,178.2 116.5,178.4 112.5,179.4 109.0,180.7 105.5,182.6 102.0,185.1 98.5,188.1 95.5,191.3 92.5,195.2M99.2,111.2 101.6,116.2 104.5,121.0 108.0,125.5 111.5,129.0 115.0,131.7 119.0,134.0 123.0,135.3 127.0,135.7 131.5,135.3 136.0,134.0 140.5,131.9 145.5,128.7 150.0,125.0 154.0,120.9 157.5,116.3 160.5,111.2M150.6,195.2 147.5,190.6 144.0,186.3 140.0,182.3 136.0,178.9 132.0,176.3 128.0,174.4 124.0,173.3 120.0,172.9 116.0,173.3 112.0,174.4 107.5,176.5 103.5,179.1 99.5,182.3 95.5,186.3 92.0,190.6 89.0,195.2M95.3,111.2 97.8,117.2 101.0,123.3 105.0,129.3 109.0,134.1 113.5,138.4 117.5,141.2 119.5,142.2 121.5,142.9 125.0,143.3 127.0,143.1 129.5,142.5 134.5,140.5 140.5,136.9 146.5,132.3 151.5,127.5 156.0,122.3 159.8,116.7 162.6,111.2M153.7,195.2 150.0,189.1 146.0,183.5 141.5,178.3 136.5,173.3 132.0,169.6 128.0,167.1 124.0,165.5 120.5,165.0 118.5,165.2 116.5,165.6 112.0,167.4 107.0,170.4 102.0,174.3 97.0,179.0 92.5,184.2 88.6,189.7 85.4,195.2M91.2,111.2 93.5,117.7 96.5,124.5 99.5,130.4 105.8,141.7 107.7,145.7 109.0,149.7 109.2,151.7 109.1,153.2 108.9,154.7 108.2,156.7 106.2,160.2 103.3,164.2 94.5,174.9 90.0,180.9 85.5,188.0 81.8,195.2M156.8,195.2 154.0,189.8 150.5,183.9 139.6,168.2 136.8,163.7 135.6,161.2 134.7,158.7 134.3,156.7 134.4,154.7 134.7,153.2 135.4,151.2 138.0,147.2 140.9,143.7 151.5,132.2 157.5,124.6 161.8,117.7 164.8,111.2M86.9,111.2 89.7,120.2 95.8,136.2 97.7,141.7 98.4,144.7 98.9,147.7 99.0,150.2 98.9,152.7 97.9,157.2 95.9,162.2 93.2,167.2 83.5,183.7 80.5,189.6 78.1,195.2M159.9,195.2 156.2,187.2 148.1,172.2 145.6,166.7 144.5,163.7 143.7,160.7 143.4,157.7 143.4,155.2 143.7,153.2 144.4,150.7 146.4,146.2 149.2,141.7 157.0,130.4 161.0,124.1 164.5,117.4 167.1,111.2M82.3,111.2 84.3,118.7 88.8,133.7 90.2,139.2 90.8,142.7 91.2,146.2 91.3,149.2 91.2,152.2 90.2,157.7 88.2,163.7 85.8,169.2 78.2,185.2 74.3,195.2M163.0,195.2 160.2,188.2 154.0,174.2 151.7,168.2 150.7,164.7 150.1,161.7 149.8,158.7 149.8,155.7 150.7,150.7 152.7,145.2 155.1,140.2 161.5,128.9 164.5,123.1 167.2,117.2 169.3,111.2M77.4,111.2 82.1,130.7 83.6,137.7 84.5,145.2 84.4,151.7 83.5,157.7 81.7,164.2 79.6,170.2 73.4,186.2 70.3,195.2M166.2,195.2 159.1,176.2 156.8,169.2 156.0,165.7 155.4,162.2 155.2,158.7 155.2,155.7 156.1,150.2 157.7,144.7 160.0,139.2 167.8,122.2 169.9,116.7 171.6,111.2M72.2,111.2 75.9,128.2 77.3,136.2 78.1,144.2 78.0,151.2 77.3,157.7 75.6,165.2 73.6,171.7 68.4,187.7 66.2,195.2M169.5,195.2 163.7,177.7 161.5,170.2 160.7,166.2 160.2,162.7 160.0,156.2 160.8,150.2 162.3,144.2 164.4,138.2 170.8,121.7 172.6,116.2 174.0,111.2M66.7,111.2 69.8,126.2 71.2,135.2 71.9,143.7 71.9,151.2 71.2,158.2 69.8,165.7 62.0,195.2M172.8,195.2 167.9,178.7 165.9,170.7 164.7,163.2 164.5,156.2 165.1,150.2 166.5,143.7 168.3,137.7 173.8,121.2 176.4,111.2M60.9,111.2 63.5,124.2 65.1,134.2 65.8,142.7 65.9,150.7 65.3,158.2 64.1,166.2 62.5,173.7 57.6,195.2M176.2,195.2 172.0,179.7 170.0,171.2 168.9,163.2 168.8,156.2 169.3,149.7 170.5,143.2 172.2,136.7 176.7,120.7 178.9,111.2M54.7,111.2 57.2,123.2 58.8,133.2 59.7,142.2 59.8,150.7 59.4,158.7 58.3,167.2 56.8,175.7 53.0,195.2M179.6,195.2 176.0,180.7 174.1,171.7 173.1,163.7 172.8,156.2 173.3,149.7 174.4,142.7 179.7,120.2 181.5,111.2M48.2,111.2 50.7,122.2 52.4,132.2 53.4,141.2 53.7,150.2 53.5,158.7 52.6,167.7 51.2,177.2 48.2,195.2M183.1,195.2 179.8,181.2 178.1,172.2 177.1,164.2 176.8,156.2 177.1,149.7 178.1,142.2 182.6,119.7 184.1,111.2M41.2,111.2 43.8,121.2 45.8,131.2 47.0,140.7 47.5,150.2 47.4,159.2 46.7,168.7 45.5,179.2 43.1,195.2M186.7,195.2 183.7,181.7 182.0,172.7 181.0,164.7 180.7,156.7 180.9,149.7 181.7,142.2 185.6,119.2 186.8,111.2M33.7,111.2 36.6,120.7 38.8,130.2 40.4,140.2 41.1,149.7 41.3,158.7 40.9,168.7 39.9,179.7 37.9,195.2M187.0,179.5 185.1,167.2 184.6,161.2 184.5,155.7 184.6,150.2 185.1,144.2 187.0,129.3M25.7,111.2 29.0,120.2 31.6,129.7 33.4,139.2 34.5,149.2 35.0,158.7 34.8,169.2 34.0,180.7 32.4,195.2M23.0,126.1 25.0,133.2 26.5,140.7 27.6,148.7 28.3,156.7 28.6,165.2 28.4,174.2 27.7,184.2 26.7,195.2" fill="none" stroke="#ffffff" stroke-opacity="0.5" stroke-width="0.5"/>
</g>
<text x="29.4" y="127.6" font-size="9.7" font-weight="bold" font-family="Liberation Sans, sans-serif" fill="#fff" textLength="49" lengthAdjust="spacingAndGlyphs">(b) 48.0μs</text>
<g clip-path="url(#cp2)">
<rect x="25.0" y="200.4" width="160.0" height="80.0" fill="#3e3a9f"/>
<rect x="177.0" y="200.4" width="4.02" height="4.02" fill="#079cd0"/>
<rect x="181.0" y="200.4" width="4.02" height="4.02" fill="#079cd0"/>
<rect x="177.0" y="204.4" width="4.02" height="4.02" fill="#18b1b2"/>
<rect x="173.0" y="208.4" width="4.02" height="4.02" fill="#079cd0"/>
<rect x="177.0" y="208.4" width="4.02" height="4.02" fill="#079cd0"/>
<rect x="169.0" y="212.4" width="4.02" height="4.02" fill="#127cd8"/>
<rect x="173.0" y="212.4" width="4.02" height="4.02" fill="#18b1b2"/>
<rect x="169.0" y="216.4" width="4.02" height="4.02" fill="#079cd0"/>
<rect x="161.0" y="220.4" width="4.02" height="4.02" fill="#127cd8"/>
<rect x="165.0" y="220.4" width="4.02" height="4.02" fill="#18b1b2"/>
<rect x="157.0" y="224.4" width="4.02" height="4.02" fill="#079cd0"/>
<rect x="161.0" y="224.4" width="4.02" height="4.02" fill="#079cd0"/>
<rect x="149.0" y="228.4" width="4.02" height="4.02" fill="#18b1b2"/>
<rect x="153.0" y="228.4" width="4.02" height="4.02" fill="#079cd0"/>
<rect x="141.0" y="232.4" width="4.02" height="4.02" fill="#a1be6c"/>
<rect x="145.0" y="232.4" width="4.02" height="4.02" fill="#18b1b2"/>
<rect x="133.0" y="236.4" width="4.02" height="4.02" fill="#127cd8"/>
<rect x="137.0" y="236.4" width="4.02" height="4.02" fill="#f9fb0e"/>
<rect x="141.0" y="236.4" width="4.02" height="4.02" fill="#079cd0"/>
<rect x="105.0" y="240.4" width="4.02" height="4.02" fill="#18b1b2"/>
<rect x="109.0" y="240.4" width="4.02" height="4.02" fill="#f9fb0e"/>
<rect x="113.0" y="240.4" width="4.02" height="4.02" fill="#f9fb0e"/>
<rect x="117.0" y="240.4" width="4.02" height="4.02" fill="#f9fb0e"/>
<rect x="121.0" y="240.4" width="4.02" height="4.02" fill="#f9fb0e"/>
<rect x="125.0" y="240.4" width="4.02" height="4.02" fill="#f9fb0e"/>
<rect x="133.0" y="240.4" width="4.02" height="4.02" fill="#f9fb0e"/>
<rect x="137.0" y="240.4" width="4.02" height="4.02" fill="#127cd8"/>
<rect x="109.0" y="244.4" width="4.02" height="4.02" fill="#f9fb0e"/>
<rect x="113.0" y="244.4" width="4.02" height="4.02" fill="#a1be6c"/>
<rect x="117.0" y="244.4" width="4.02" height="4.02" fill="#f9fb0e"/>
<rect x="121.0" y="244.4" width="4.02" height="4.02" fill="#f9fb0e"/>
<rect x="125.0" y="244.4" width="4.02" height="4.02" fill="#f9fb0e"/>
<rect x="129.0" y="244.4" width="4.02" height="4.02" fill="#f9fb0e"/>
<rect x="133.0" y="244.4" width="4.02" height="4.02" fill="#f9fb0e"/>
<rect x="137.0" y="244.4" width="4.02" height="4.02" fill="#55bd8e"/>
<rect x="101.0" y="248.4" width="4.02" height="4.02" fill="#079cd0"/>
<rect x="105.0" y="248.4" width="4.02" height="4.02" fill="#18b1b2"/>
<rect x="109.0" y="248.4" width="4.02" height="4.02" fill="#f9fb0e"/>
<rect x="113.0" y="248.4" width="4.02" height="4.02" fill="#f9fb0e"/>
<rect x="117.0" y="248.4" width="4.02" height="4.02" fill="#f9fb0e"/>
<rect x="121.0" y="248.4" width="4.02" height="4.02" fill="#18b1b2"/>
<rect x="97.0" y="252.4" width="4.02" height="4.02" fill="#127cd8"/>
<rect x="101.0" y="252.4" width="4.02" height="4.02" fill="#f9fb0e"/>
<rect x="105.0" y="252.4" width="4.02" height="4.02" fill="#f9fb0e"/>
<rect x="109.0" y="252.4" width="4.02" height="4.02" fill="#f9fb0e"/>
<rect x="89.0" y="256.4" width="4.02" height="4.02" fill="#079cd0"/>
<rect x="93.0" y="256.4" width="4.02" height="4.02" fill="#f9fb0e"/>
<rect x="97.0" y="256.4" width="4.02" height="4.02" fill="#f9fb0e"/>
<rect x="101.0" y="256.4" width="4.02" height="4.02" fill="#079cd0"/>
<rect x="105.0" y="256.4" width="4.02" height="4.02" fill="#f9fb0e"/>
<rect x="81.0" y="260.4" width="4.02" height="4.02" fill="#127cd8"/>
<rect x="85.0" y="260.4" width="4.02" height="4.02" fill="#f9fb0e"/>
<rect x="89.0" y="260.4" width="4.02" height="4.02" fill="#f9fb0e"/>
<rect x="77.0" y="264.4" width="4.02" height="4.02" fill="#a1be6c"/>
<rect x="81.0" y="264.4" width="4.02" height="4.02" fill="#f9fb0e"/>
<rect x="73.0" y="268.4" width="4.02" height="4.02" fill="#fdcb30"/>
<rect x="77.0" y="268.4" width="4.02" height="4.02" fill="#18b1b2"/>
<rect x="69.0" y="272.4" width="4.02" height="4.02" fill="#18b1b2"/>
<rect x="73.0" y="272.4" width="4.02" height="4.02" fill="#079cd0"/>
<rect x="69.0" y="276.4" width="4.02" height="4.02" fill="#f9fb0e"/>
<path d="M127.4,198.4 132.3,198.4M119.6,198.4 124.5,199.7 129.5,200.1 134.5,199.6 139.0,198.4M114.7,198.4 118.5,200.0 122.0,201.1 125.5,201.7 129.0,201.9 132.5,201.6 136.0,201.0 139.5,199.8 142.6,198.4M110.4,198.4 114.5,200.6 119.0,202.4 123.5,203.4 128.0,203.8 132.5,203.4 137.0,202.4 141.5,200.7 145.5,198.4M106.2,198.4 111.5,201.7 116.5,203.9 122.0,205.4 127.5,205.8 133.0,205.3 138.5,203.8 143.5,201.5 148.1,198.4M123.5,282.4 118.0,282.0 112.8,282.4M102.0,198.4 105.0,200.7 108.0,202.7 111.0,204.3 114.0,205.6 117.0,206.7 120.0,207.4 123.5,208.0 126.5,208.1 129.5,208.0 133.0,207.5 136.0,206.7 139.0,205.7 142.0,204.3 145.0,202.6 148.0,200.5 150.5,198.4M132.5,282.4 129.0,281.2 125.0,280.2 121.5,279.7 118.0,279.5 114.5,279.7 111.0,280.2 107.5,281.1 103.8,282.4M97.7,198.4 101.0,201.2 104.5,203.7 108.0,205.8 111.5,207.6 115.0,208.9 118.5,209.9 122.0,210.4 125.5,210.6 129.0,210.5 133.0,209.8 136.5,208.8 140.0,207.5 143.5,205.7 146.5,203.8 150.0,201.0 152.8,198.4M138.2,282.4 133.0,279.9 128.0,278.2 123.0,277.2 118.0,276.8 113.0,277.2 108.0,278.2 103.0,280.0 98.1,282.4M93.3,198.4 97.1,201.9 101.0,205.0 105.0,207.6 109.0,209.8 112.5,211.3 116.5,212.5 120.5,213.2 124.5,213.5 128.5,213.3 132.5,212.6 136.5,211.4 140.5,209.7 144.5,207.5 148.5,204.6 152.0,201.6 155.0,198.4M143.0,282.4 136.5,278.6 130.5,276.0 127.5,275.1 124.0,274.3 118.0,273.8 115.0,273.9 112.0,274.3 108.5,275.0 105.5,275.9 99.5,278.6 96.5,280.3 93.4,282.4M88.5,198.4 93.5,203.1 98.0,206.8 102.5,210.0 106.5,212.4 110.5,214.2 115.0,215.7 119.5,216.5 123.5,216.8 128.0,216.5 132.5,215.5 137.0,214.0 141.5,211.9 146.0,209.1 150.0,205.9 153.7,202.4 157.1,198.4M147.4,282.4 143.5,279.5 139.5,277.0 136.0,275.1 132.0,273.3 128.5,272.1 124.5,271.0 121.0,270.5 117.5,270.4 114.0,270.6 110.5,271.1 106.5,272.2 103.0,273.5 99.5,275.1 96.0,277.2 92.5,279.6 89.0,282.4M83.5,198.4 89.5,204.3 94.5,208.7 99.5,212.5 104.0,215.4 108.5,217.7 113.0,219.3 117.5,220.4 122.0,220.7 127.0,220.3 132.0,219.1 137.0,217.2 142.0,214.6 147.0,211.2 151.5,207.4 155.5,203.2 159.3,198.4M151.6,282.4 147.0,278.6 142.5,275.4 138.0,272.6 133.5,270.2 129.5,268.6 125.5,267.3 121.5,266.6 117.5,266.3 113.5,266.5 109.5,267.3 105.0,268.7 101.0,270.5 97.0,272.7 92.5,275.7 88.5,279.0 84.9,282.4M78.2,198.4 86.0,206.2 91.5,211.3 97.0,215.9 102.0,219.4 107.0,222.2 111.5,224.1 116.0,225.3 120.5,225.6 125.5,225.2 131.0,223.7 136.5,221.3 142.0,218.0 147.5,214.0 153.0,208.9 157.5,203.8 161.4,198.4M155.6,282.4 150.5,277.8 145.0,273.3 140.0,269.7 134.5,266.4 130.0,264.2 125.5,262.5 121.0,261.5 117.0,261.2 113.0,261.5 108.5,262.6 104.0,264.3 99.5,266.6 95.0,269.5 90.0,273.4 85.5,277.5 80.9,282.4M72.4,198.4 89.5,215.4 95.5,220.8 101.0,225.3 106.0,228.7 110.5,231.1 114.5,232.5 118.5,233.0 121.0,232.9 123.5,232.4 126.0,231.6 129.0,230.3 135.5,226.7 142.5,221.8 149.0,216.3 154.5,210.7 159.5,204.5 163.5,198.4M159.5,282.4 153.0,276.0 146.5,270.2 140.0,264.9 134.0,260.6 129.0,257.5 124.5,255.4 120.5,254.1 117.0,253.7 113.0,254.1 108.5,255.6 103.5,258.2 98.0,261.8 92.5,266.1 87.0,271.1 82.0,276.3 77.0,282.4M66.1,198.4 71.5,203.6 78.1,210.4 90.7,223.9 96.5,230.4 99.3,233.9 101.3,236.9 102.5,239.4 103.1,241.9 103.0,243.9 102.5,245.9 101.4,248.4 99.7,250.9 96.3,254.9 82.0,270.7 77.5,276.3 73.0,282.4M163.4,282.4 155.5,274.1 140.3,258.9 135.6,253.9 133.3,250.9 131.7,248.4 130.8,245.9 130.5,243.9 130.6,242.4 131.3,240.4 132.3,238.4 133.7,236.4 137.7,231.9 149.5,220.0 155.0,213.9 158.0,210.2 161.0,206.0 165.6,198.4M59.2,198.4 65.0,203.6 71.1,209.9 77.4,216.9 83.1,223.9 86.7,228.9 89.4,233.4 91.0,237.4 91.8,240.9 91.9,243.9 91.4,246.9 90.4,249.9 88.7,253.4 85.3,258.9 74.5,274.2 69.1,282.4M167.2,282.4 151.8,264.9 145.4,256.9 143.2,253.4 141.5,249.9 140.6,246.9 140.2,243.9 140.5,241.4 141.1,238.9 142.1,236.4 143.8,233.4 147.2,228.4 156.0,217.0 160.5,210.8 164.5,204.5 167.7,198.4M51.7,198.4 57.2,202.9 63.0,208.4 68.5,214.4 73.4,220.4 77.3,225.9 80.2,230.9 82.1,235.4 83.2,239.9 83.5,243.4 83.2,246.9 82.4,250.4 81.0,254.4 79.3,257.9 76.9,262.4 65.1,282.4M171.1,282.4 158.7,267.4 154.9,262.4 152.2,258.4 149.9,254.4 148.4,250.9 147.4,247.4 147.1,243.9 147.2,241.4 147.7,238.4 148.7,235.4 150.3,231.9 153.4,226.4 164.2,209.4 167.2,203.9 169.9,198.4M43.2,198.4 49.0,202.5 54.5,207.2 59.7,212.4 64.5,217.9 68.6,223.4 71.9,228.9 74.2,233.9 75.5,238.4 76.1,242.4 76.1,246.4 75.5,250.4 74.3,254.9 72.6,259.4 70.3,264.4 61.1,282.4M175.0,282.4 164.3,268.9 160.8,263.9 157.9,259.4 155.8,255.4 154.2,251.4 153.1,247.4 152.7,243.9 152.8,240.9 153.3,237.9 154.2,234.4 155.5,230.9 158.7,224.4 167.7,207.9 172.1,198.4M33.6,198.4 39.5,201.9 45.0,205.9 50.5,210.6 55.5,215.7 59.7,220.9 63.4,226.4 66.3,231.9 68.1,236.9 69.0,240.9 69.3,245.4 69.1,249.9 68.2,254.9 66.7,259.9 64.6,265.4 57.0,282.4M178.9,282.4 173.8,275.9 169.3,269.9 165.6,264.4 162.9,259.9 160.7,255.4 159.2,251.4 158.2,247.4 157.8,243.9 157.8,240.9 158.2,237.4 158.9,233.9 160.2,229.9 163.1,222.9 171.0,206.3 174.3,198.4M23.0,198.7 29.5,201.8 35.5,205.4 41.0,209.4 46.5,214.3 51.2,219.4 55.4,224.9 58.5,230.2 60.7,235.4 62.0,239.9 62.8,244.9 62.8,249.9 62.2,254.9 61.1,259.9 59.3,265.9 56.7,272.9 52.8,282.4M182.9,282.4 178.2,276.4 173.8,270.4 170.6,265.4 167.7,260.4 165.5,255.9 164.0,251.9 163.0,247.9 162.4,243.9 162.4,240.4 162.7,236.9 163.4,232.9 164.5,228.9 166.8,222.4 173.5,206.4 176.5,198.4M186.9,282.4 182.2,276.4 178.3,270.9 175.1,265.9 172.2,260.9 170.1,256.4 168.6,252.4 167.4,247.9 166.8,243.9 166.6,240.4 166.9,236.4 167.5,232.4 168.4,228.4 170.7,220.9 178.8,198.4M23.0,204.1 28.9,207.4 34.0,210.9 38.9,214.9 43.0,218.9 46.9,223.4 50.3,228.4 52.8,232.9 54.7,237.9 55.9,242.4 56.5,246.9 56.6,251.4 56.2,256.4 55.2,261.4 53.7,267.4 51.6,273.9 48.5,282.4M187.0,277.3 183.4,272.4 180.1,267.4 177.5,262.9 175.2,258.4 173.6,254.4 172.3,250.4 171.4,246.4 170.8,242.4 170.7,238.9 170.9,234.9 171.5,230.9 172.3,226.9 174.5,218.9 181.1,198.4M23.0,210.1 27.5,213.0 32.0,216.4 36.0,220.0 39.6,223.9 42.6,227.9 45.4,232.4 47.3,236.4 48.9,240.9 49.8,244.9 50.4,249.4 50.5,253.9 50.1,258.9 49.3,263.9 48.1,269.4 46.3,275.4 44.0,282.4M187.0,271.6 184.2,267.4 181.6,262.9 179.6,258.9 177.9,254.9 176.5,250.9 175.7,247.4 175.0,243.9 174.7,239.9 174.9,232.9 176.1,224.9 178.1,216.9 183.5,198.4M23.0,216.7 26.6,219.4 30.0,222.5 33.2,225.9 36.0,229.4 38.3,232.9 40.5,236.9 41.9,240.4 43.2,244.4 44.0,248.4 44.4,252.4 44.5,256.4 44.2,260.9 43.6,265.9 42.6,270.9 39.5,282.4M187.0,265.2 183.3,257.9 180.6,250.9 179.7,247.4 179.0,243.9 178.6,240.4 178.4,236.9 178.7,230.4 179.8,222.9 181.6,214.9 185.9,198.4M23.0,224.2 25.8,226.9 28.4,229.9 30.7,232.9 32.5,235.7 34.2,238.9 35.5,241.9 36.7,245.4 37.6,248.9 38.2,252.4 38.5,255.9 38.5,259.9 38.3,263.9 37.1,272.4 34.8,282.4M187.0,257.2 184.7,251.4 183.2,245.9 182.4,240.4 182.0,234.4 182.3,228.4 183.2,221.9 184.5,214.9 187.0,204.0M23.0,233.3 26.5,238.4 29.0,243.4 31.0,248.9 32.2,254.9 32.6,260.9 32.4,267.4 31.5,274.4 29.9,282.4M187.0,245.4 185.9,238.9 185.6,232.4 185.9,225.4 187.0,217.4M23.0,246.2 24.4,249.9 25.5,253.9 26.2,257.9 26.6,262.4 26.7,266.9 26.4,271.9 25.8,276.9 24.8,282.4" fill="none" stroke="#ffffff" stroke-opacity="0.5" stroke-width="0.5"/>
</g>
<text x="29.4" y="214.0" font-size="9.7" font-weight="bold" font-family="Liberation Sans, sans-serif" fill="#fff" textLength="49" lengthAdjust="spacingAndGlyphs">(c) 53.0μs</text>
<g clip-path="url(#cp3)">
<rect x="25.0" y="287.6" width="160.0" height="80.0" fill="#3e3a9f"/>
<rect x="177.0" y="287.6" width="4.02" height="4.02" fill="#079cd0"/>
<rect x="177.0" y="291.6" width="4.02" height="4.02" fill="#079cd0"/>
<rect x="173.0" y="295.6" width="4.02" height="4.02" fill="#079cd0"/>
<rect x="177.0" y="295.6" width="4.02" height="4.02" fill="#127cd8"/>
<rect x="169.0" y="299.6" width="4.02" height="4.02" fill="#127cd8"/>
<rect x="173.0" y="299.6" width="4.02" height="4.02" fill="#079cd0"/>
<rect x="165.0" y="303.6" width="4.02" height="4.02" fill="#079cd0"/>
<rect x="169.0" y="303.6" width="4.02" height="4.02" fill="#079cd0"/>
<rect x="161.0" y="307.6" width="4.02" height="4.02" fill="#079cd0"/>
<rect x="165.0" y="307.6" width="4.02" height="4.02" fill="#127cd8"/>
<rect x="157.0" y="311.6" width="4.02" height="4.02" fill="#079cd0"/>
<rect x="161.0" y="311.6" width="4.02" height="4.02" fill="#127cd8"/>
<rect x="149.0" y="315.6" width="4.02" height="4.02" fill="#18b1b2"/>
<rect x="153.0" y="315.6" width="4.02" height="4.02" fill="#079cd0"/>
<rect x="141.0" y="319.6" width="4.02" height="4.02" fill="#e2b951"/>
<rect x="145.0" y="319.6" width="4.02" height="4.02" fill="#18b1b2"/>
<rect x="137.0" y="323.6" width="4.02" height="4.02" fill="#f9fb0e"/>
<rect x="141.0" y="323.6" width="4.02" height="4.02" fill="#a1be6c"/>
<rect x="109.0" y="327.6" width="4.02" height="4.02" fill="#127cd8"/>
<rect x="137.0" y="327.6" width="4.02" height="4.02" fill="#f9fb0e"/>
<rect x="141.0" y="327.6" width="4.02" height="4.02" fill="#18b1b2"/>
<rect x="101.0" y="331.6" width="4.02" height="4.02" fill="#127cd8"/>
<rect x="109.0" y="331.6" width="4.02" height="4.02" fill="#f9fb0e"/>
<rect x="113.0" y="331.6" width="4.02" height="4.02" fill="#f9fb0e"/>
<rect x="117.0" y="331.6" width="4.02" height="4.02" fill="#127cd8"/>
<rect x="121.0" y="331.6" width="4.02" height="4.02" fill="#18b1b2"/>
<rect x="137.0" y="331.6" width="4.02" height="4.02" fill="#127cd8"/>
<rect x="101.0" y="335.6" width="4.02" height="4.02" fill="#f9fb0e"/>
<rect x="105.0" y="335.6" width="4.02" height="4.02" fill="#f9fb0e"/>
<rect x="109.0" y="335.6" width="4.02" height="4.02" fill="#f9fb0e"/>
<rect x="113.0" y="335.6" width="4.02" height="4.02" fill="#55bd8e"/>
<rect x="93.0" y="339.6" width="4.02" height="4.02" fill="#127cd8"/>
<rect x="97.0" y="339.6" width="4.02" height="4.02" fill="#f9fb0e"/>
<rect x="101.0" y="339.6" width="4.02" height="4.02" fill="#f9fb0e"/>
<rect x="105.0" y="339.6" width="4.02" height="4.02" fill="#127cd8"/>
<rect x="85.0" y="343.6" width="4.02" height="4.02" fill="#127cd8"/>
<rect x="89.0" y="343.6" width="4.02" height="4.02" fill="#f9fb0e"/>
<rect x="93.0" y="343.6" width="4.02" height="4.02" fill="#f9fb0e"/>
<rect x="81.0" y="347.6" width="4.02" height="4.02" fill="#fdcb30"/>
<rect x="85.0" y="347.6" width="4.02" height="4.02" fill="#fdcb30"/>
<rect x="73.0" y="351.6" width="4.02" height="4.02" fill="#127cd8"/>
<rect x="77.0" y="351.6" width="4.02" height="4.02" fill="#f9fb0e"/>
<rect x="81.0" y="351.6" width="4.02" height="4.02" fill="#127cd8"/>
<rect x="69.0" y="355.6" width="4.02" height="4.02" fill="#127cd8"/>
<rect x="73.0" y="355.6" width="4.02" height="4.02" fill="#f9fb0e"/>
<rect x="69.0" y="359.6" width="4.02" height="4.02" fill="#f9fb0e"/>
<rect x="65.0" y="363.6" width="4.02" height="4.02" fill="#127cd8"/>
<rect x="69.0" y="363.6" width="4.02" height="4.02" fill="#fdcb30"/>
<path d="M129.2,285.6 133.0,286.4 137.0,286.7 141.0,286.5 145.2,285.6M123.8,285.6 127.0,286.9 130.0,287.7 133.0,288.3 136.5,288.5 140.0,288.3 143.0,287.8 146.0,287.0 149.4,285.6M119.2,285.6 123.5,287.8 127.5,289.2 131.5,290.0 136.0,290.4 140.5,290.0 144.5,289.2 148.5,287.7 152.5,285.6M114.9,285.6 120.0,288.7 125.0,290.7 130.0,292.0 135.0,292.4 140.5,292.0 145.5,290.7 150.5,288.6 155.3,285.6M137.6,369.6 132.0,368.3 126.0,367.8 120.5,368.2 114.8,369.6M110.6,285.6 113.5,287.7 116.5,289.6 119.5,291.2 122.5,292.5 125.5,293.4 128.5,294.1 131.5,294.5 134.5,294.7 137.5,294.5 140.5,294.1 143.5,293.4 146.5,292.4 149.5,291.1 152.5,289.4 155.0,287.8 157.7,285.6M143.7,369.6 139.5,367.8 135.0,366.4 130.5,365.6 126.0,365.3 121.5,365.6 117.0,366.5 113.0,367.7 108.7,369.6M106.3,285.6 109.5,288.2 113.0,290.7 116.2,292.6 119.5,294.2 123.0,295.5 126.5,296.4 130.0,297.0 133.5,297.2 137.0,297.0 140.5,296.4 144.0,295.5 147.5,294.2 151.0,292.5 154.0,290.6 157.0,288.4 160.1,285.6M148.6,369.6 142.5,366.4 137.0,364.3 131.5,363.1 126.0,362.7 120.5,363.1 115.0,364.3 109.5,366.4 103.9,369.6M101.8,285.6 105.8,289.1 109.5,291.9 113.0,294.2 117.0,296.4 120.5,297.8 124.5,299.1 128.5,299.8 132.5,300.0 136.5,299.8 140.5,299.0 144.5,297.8 148.5,296.1 152.5,293.9 156.0,291.5 159.5,288.5 162.3,285.6M152.9,369.6 149.5,367.3 146.0,365.2 139.5,362.3 136.0,361.1 132.5,360.3 129.0,359.8 126.0,359.7 122.5,359.8 119.0,360.3 116.0,361.0 112.5,362.2 109.5,363.4 106.0,365.2 102.5,367.4 99.6,369.6M97.1,285.6 101.5,289.7 106.0,293.4 110.0,296.3 114.5,298.9 119.0,300.9 123.0,302.2 127.0,303.0 131.5,303.3 136.0,302.9 140.5,302.0 145.0,300.4 149.0,298.6 153.5,295.8 157.5,292.8 161.0,289.5 164.5,285.6M157.0,369.6 153.0,366.5 149.0,363.8 145.0,361.5 141.0,359.6 137.0,358.1 133.0,357.1 129.0,356.4 125.5,356.3 122.0,356.4 118.0,357.1 114.0,358.2 110.5,359.6 107.0,361.3 103.0,363.7 99.0,366.6 95.6,369.6M92.2,285.6 97.5,290.8 102.5,295.2 107.5,299.0 112.0,301.9 116.5,304.2 121.0,305.8 125.5,306.8 130.0,307.1 134.5,306.8 139.5,305.7 144.5,303.8 149.5,301.3 154.5,297.9 159.0,294.2 163.0,290.1 166.7,285.6M160.9,369.6 156.0,365.4 151.5,362.1 147.0,359.1 142.5,356.7 138.0,354.7 134.0,353.4 129.5,352.5 125.5,352.2 121.5,352.5 117.0,353.3 112.5,354.8 108.5,356.7 104.0,359.3 100.0,362.1 96.0,365.4 91.7,369.6M87.0,285.6 94.0,292.6 99.5,297.7 105.0,302.3 110.0,305.8 115.0,308.6 119.5,310.5 124.0,311.7 128.5,312.0 133.5,311.6 139.0,310.0 144.5,307.6 150.0,304.4 155.5,300.3 160.5,295.8 165.0,290.8 168.8,285.6M164.7,369.6 159.0,364.3 153.5,359.8 148.0,355.8 143.0,352.7 138.0,350.2 133.5,348.5 129.0,347.5 125.0,347.2 120.5,347.6 116.0,348.7 111.5,350.5 107.0,352.9 102.0,356.3 97.0,360.3 92.5,364.5 87.9,369.6M81.3,285.6 98.0,302.2 104.0,307.5 109.5,311.9 114.5,315.3 118.5,317.4 122.5,318.8 126.5,319.3 128.5,319.2 131.0,318.8 133.5,318.1 136.5,316.8 143.0,313.3 149.5,308.8 156.0,303.5 161.5,298.0 166.5,292.1 170.9,285.6M168.5,369.6 162.0,363.1 155.5,357.2 149.0,351.8 143.0,347.4 137.5,343.9 133.0,341.7 129.0,340.3 125.0,339.8 121.0,340.2 116.5,341.7 111.5,344.3 106.0,347.9 100.0,352.6 94.5,357.7 89.0,363.6 84.2,369.6M75.2,285.6 87.6,298.1 99.7,311.1 105.0,317.1 107.8,320.6 109.7,323.6 110.8,326.1 111.3,328.6 111.1,330.6 110.5,332.6 109.5,334.6 107.8,337.1 104.5,341.1 95.0,351.3 90.0,357.0 85.0,363.2 80.4,369.6M172.2,369.6 164.0,360.9 148.2,345.1 143.5,340.1 141.1,337.1 139.6,334.6 138.6,332.1 138.4,330.1 138.6,328.1 139.1,326.6 140.2,324.6 141.6,322.6 145.1,318.6 156.5,307.2 162.5,300.7 168.5,292.9 173.0,285.6M68.6,285.6 74.5,291.1 80.3,297.1 86.9,304.6 92.1,311.1 95.6,316.1 97.9,320.1 99.5,324.1 100.2,327.6 100.1,330.6 99.6,333.6 98.5,336.6 96.7,340.1 93.6,345.1 82.5,360.6 76.6,369.6M176.0,369.6 159.2,350.6 153.2,343.1 150.9,339.6 149.2,336.1 148.3,333.1 148.0,330.1 148.2,327.6 148.8,325.1 149.9,322.6 151.5,319.6 154.6,315.1 163.5,303.7 168.0,297.5 172.0,291.4 175.2,285.6M61.4,285.6 67.0,290.4 72.3,295.6 77.8,301.6 82.6,307.6 86.3,313.1 89.1,318.1 90.9,322.6 91.8,326.6 92.0,330.1 91.6,333.6 90.7,337.1 89.2,341.1 85.3,348.6 72.8,369.6M179.7,369.6 166.8,354.1 163.0,349.1 160.2,345.1 157.9,341.1 156.3,337.6 155.2,334.1 154.7,330.6 154.8,328.1 155.3,325.1 156.2,322.1 157.7,318.6 161.1,312.6 172.0,295.6 174.8,290.6 177.3,285.6M53.4,285.6 59.0,289.8 64.4,294.6 69.7,300.1 74.2,305.6 78.1,311.1 81.0,316.1 83.1,321.1 84.3,325.6 84.7,329.1 84.6,333.1 83.9,337.1 82.6,341.6 81.1,345.6 78.8,350.6 68.9,369.6M183.5,369.6 172.3,355.6 168.7,350.6 165.8,346.1 163.6,342.1 161.9,338.1 160.8,334.1 160.3,330.6 160.4,327.6 160.9,324.1 161.8,320.6 163.2,317.1 166.4,310.6 175.2,294.6 179.5,285.6M44.4,285.6 50.0,289.2 55.5,293.4 60.6,298.1 65.3,303.1 69.5,308.5 72.7,313.6 75.4,319.1 77.1,324.1 77.8,328.1 78.0,332.6 77.6,337.1 76.7,341.6 75.1,346.6 73.0,352.1 65.0,369.6M187.0,369.2 177.2,356.6 173.5,351.1 170.7,346.6 168.4,342.1 166.8,338.1 165.8,334.1 165.3,330.6 165.3,327.6 165.6,324.1 166.3,320.6 167.6,316.6 170.1,310.6 178.0,294.1 181.7,285.6M34.1,285.6 40.5,289.0 46.1,292.6 51.5,296.8 56.6,301.6 61.0,306.6 64.9,312.1 68.0,317.6 70.0,322.6 71.1,327.1 71.6,331.6 71.6,336.6 70.9,341.6 69.7,346.6 67.8,352.6 65.1,359.6 60.9,369.6M187.0,364.3 182.7,358.6 179.3,353.6 176.5,349.1 174.1,344.6 172.3,340.6 171.0,336.6 170.1,332.6 169.8,329.1 169.8,326.1 170.2,322.6 170.9,319.1 172.0,315.1 174.4,308.6 180.8,293.6 183.9,285.6M23.0,286.0 30.0,289.0 36.0,292.2 42.1,296.1 47.5,300.5 52.3,305.1 56.5,310.2 60.0,315.6 62.7,321.1 64.2,325.6 65.2,330.6 65.6,335.6 65.2,341.1 64.3,346.6 62.6,353.1 60.3,360.1 56.8,369.6M187.0,359.0 183.7,354.1 181.0,349.6 178.8,345.6 177.0,341.6 175.6,337.6 174.7,334.1 174.2,330.6 174.0,327.1 174.1,324.1 174.5,320.6 175.2,317.1 176.2,313.1 178.4,306.6 186.1,285.6M187.0,352.9 183.0,345.6 181.4,342.1 180.1,338.6 179.1,335.1 178.5,332.1 178.2,329.1 178.0,325.6 178.4,319.6 179.8,312.6 182.0,305.1 187.0,290.1M23.0,291.2 29.0,294.1 34.5,297.3 39.7,301.1 44.3,305.1 48.5,309.6 51.9,314.1 54.7,318.6 56.9,323.6 58.3,328.1 59.3,333.1 59.6,338.1 59.3,343.1 58.5,348.6 57.2,354.6 55.2,361.6 52.5,369.6M23.0,296.7 28.1,299.6 33.0,302.9 37.5,306.6 41.1,310.1 44.5,314.1 47.2,318.1 49.7,322.6 51.5,327.1 52.7,331.6 53.4,336.1 53.7,340.6 53.5,345.6 52.8,351.1 51.7,356.6 50.2,362.6 48.1,369.6M187.0,345.5 184.7,340.1 183.1,334.6 182.2,329.6 181.9,324.1 182.2,318.6 183.1,313.1 184.6,306.6 187.0,298.2M23.0,302.8 27.2,305.6 31.0,308.6 34.5,311.9 37.5,315.2 40.1,318.6 42.6,322.6 44.5,326.6 45.9,330.6 47.0,334.6 47.6,338.6 47.9,343.1 47.8,347.6 47.3,352.6 46.5,357.6 45.3,363.1 43.5,369.6M187.0,334.5 185.9,328.6 185.6,322.6 185.9,316.6 187.0,309.6M23.0,309.7 26.0,312.1 29.2,315.1 31.9,318.1 34.1,321.1 36.1,324.1 37.9,327.6 39.4,331.1 40.5,334.6 41.3,338.1 41.8,342.1 42.1,346.1 42.0,350.1 41.7,354.6 41.1,359.1 38.8,369.6M23.0,317.6 27.3,322.6 30.9,328.1 32.4,331.1 33.6,334.1 35.3,340.1 36.2,346.6 36.2,353.6 35.5,361.1 33.9,369.6M23.0,327.7 25.5,331.9 27.5,336.4 29.0,341.1 30.0,346.1 30.5,351.6 30.4,357.1 29.9,363.1 28.9,369.6M23.0,343.9 24.1,349.6 24.6,356.1 24.4,362.6 23.6,369.6" fill="none" stroke="#ffffff" stroke-opacity="0.5" stroke-width="0.5"/>
</g>
<text x="29.4" y="301.7" font-size="9.7" font-weight="bold" font-family="Liberation Sans, sans-serif" fill="#fff" textLength="49" lengthAdjust="spacingAndGlyphs">(d) 58.0μs</text>
<text x="23.2" y="292.0" font-size="9" font-family="Liberation Sans, sans-serif" text-anchor="end">100</text>
<text x="23.2" y="329.6" font-size="9" font-family="Liberation Sans, sans-serif" text-anchor="end">0</text>
<text x="23.2" y="368.8" font-size="9" font-family="Liberation Sans, sans-serif" text-anchor="end">-100</text>
<text transform="translate(9.6,340) rotate(-90)" font-size="9" font-family="Liberation Sans, sans-serif"><tspan font-style="italic">Z</tspan> [mm]</text>
<text x="48.0" y="378" font-size="9" font-family="Liberation Sans, sans-serif" text-anchor="middle">200</text>
<text x="87.8" y="378" font-size="9" font-family="Liberation Sans, sans-serif" text-anchor="middle">300</text>
<text x="127.5" y="378" font-size="9" font-family="Liberation Sans, sans-serif" text-anchor="middle">400</text>
<text x="167.6" y="378" font-size="9" font-family="Liberation Sans, sans-serif" text-anchor="middle">500</text>
<text x="96" y="387.2" font-size="9" font-family="Liberation Sans, sans-serif" textLength="26.8" lengthAdjust="spacingAndGlyphs"><tspan font-style="italic">R</tspan> [mm]</text>
<line x1="220.3" y1="27.5" x2="220.3" y2="364" stroke="#aaa" stroke-width="0.6" stroke-dasharray="2.5,3.4"/>
<line x1="327.2" y1="27.5" x2="327.2" y2="364" stroke="#aaa" stroke-width="0.6" stroke-dasharray="2.5,3.4"/>
<rect x="224.58" y="100.88" width="4.28" height="5.32" fill="#60a6d6" stroke="#1b2a3a" stroke-width="0.6"/>
<rect x="228.85" y="95.27" width="4.28" height="10.94" fill="#60a6d6" stroke="#1b2a3a" stroke-width="0.6"/>
<rect x="233.13" y="97.45" width="4.28" height="8.75" fill="#60a6d6" stroke="#1b2a3a" stroke-width="0.6"/>
<rect x="237.40" y="93.22" width="4.28" height="12.98" fill="#60a6d6" stroke="#1b2a3a" stroke-width="0.6"/>
<rect x="241.68" y="87.39" width="4.28" height="18.81" fill="#60a6d6" stroke="#1b2a3a" stroke-width="0.6"/>
<rect x="245.96" y="90.75" width="4.28" height="15.45" fill="#60a6d6" stroke="#1b2a3a" stroke-width="0.6"/>
<path d="M220.30,33.3v1.2M220.30,106.2v-1.2M214.6,106.20h1.2M332.5,106.20h-1.2M230.99,33.3v1.2M230.99,106.2v-1.2M214.6,98.91h1.2M332.5,98.91h-1.2M241.68,33.3v1.2M241.68,106.2v-1.2M214.6,91.62h1.2M332.5,91.62h-1.2M252.37,33.3v1.2M252.37,106.2v-1.2M214.6,84.33h1.2M332.5,84.33h-1.2M263.06,33.3v1.2M263.06,106.2v-1.2M214.6,77.04h1.2M332.5,77.04h-1.2M273.75,33.3v1.2M273.75,106.2v-1.2M214.6,69.75h1.2M332.5,69.75h-1.2M284.44,33.3v1.2M284.44,106.2v-1.2M214.6,62.46h1.2M332.5,62.46h-1.2M295.13,33.3v1.2M295.13,106.2v-1.2M214.6,55.17h1.2M332.5,55.17h-1.2M305.82,33.3v1.2M305.82,106.2v-1.2M214.6,47.88h1.2M332.5,47.88h-1.2M316.51,33.3v1.2M316.51,106.2v-1.2M214.6,40.59h1.2M332.5,40.59h-1.2M327.20,33.3v1.2M327.20,106.2v-1.2M214.6,33.30h1.2M332.5,33.30h-1.2" stroke="#222" stroke-width="0.5" fill="none"/>
<rect x="214.6" y="33.3" width="117.9" height="72.9" fill="none" stroke="#222" stroke-width="0.7"/>
<text x="208" y="36.6" font-size="9" font-family="Liberation Sans, sans-serif" text-anchor="middle">1</text>
<text x="208" y="109.5" font-size="9" font-family="Liberation Sans, sans-serif" text-anchor="middle">0</text>
<text x="278.4" y="46.5" font-size="10.8" font-family="Liberation Sans, sans-serif">(e) 43.0μs</text>
<rect x="224.58" y="181.99" width="4.28" height="10.01" fill="#60a6d6" stroke="#1b2a3a" stroke-width="0.6"/>
<rect x="228.85" y="184.12" width="4.28" height="7.88" fill="#60a6d6" stroke="#1b2a3a" stroke-width="0.6"/>
<rect x="233.13" y="182.28" width="4.28" height="9.72" fill="#60a6d6" stroke="#1b2a3a" stroke-width="0.6"/>
<rect x="237.40" y="183.54" width="4.28" height="8.46" fill="#60a6d6" stroke="#1b2a3a" stroke-width="0.6"/>
<rect x="241.68" y="183.54" width="4.28" height="8.46" fill="#60a6d6" stroke="#1b2a3a" stroke-width="0.6"/>
<rect x="245.96" y="179.34" width="4.28" height="12.66" fill="#60a6d6" stroke="#1b2a3a" stroke-width="0.6"/>
<rect x="250.23" y="178.16" width="4.28" height="13.84" fill="#60a6d6" stroke="#1b2a3a" stroke-width="0.6"/>
<path d="M220.30,118.4v1.2M220.30,192.0v-1.2M214.6,192.00h1.2M332.5,192.00h-1.2M230.99,118.4v1.2M230.99,192.0v-1.2M214.6,184.64h1.2M332.5,184.64h-1.2M241.68,118.4v1.2M241.68,192.0v-1.2M214.6,177.28h1.2M332.5,177.28h-1.2M252.37,118.4v1.2M252.37,192.0v-1.2M214.6,169.92h1.2M332.5,169.92h-1.2M263.06,118.4v1.2M263.06,192.0v-1.2M214.6,162.56h1.2M332.5,162.56h-1.2M273.75,118.4v1.2M273.75,192.0v-1.2M214.6,155.20h1.2M332.5,155.20h-1.2M284.44,118.4v1.2M284.44,192.0v-1.2M214.6,147.84h1.2M332.5,147.84h-1.2M295.13,118.4v1.2M295.13,192.0v-1.2M214.6,140.48h1.2M332.5,140.48h-1.2M305.82,118.4v1.2M305.82,192.0v-1.2M214.6,133.12h1.2M332.5,133.12h-1.2M316.51,118.4v1.2M316.51,192.0v-1.2M214.6,125.76h1.2M332.5,125.76h-1.2M327.20,118.4v1.2M327.20,192.0v-1.2M214.6,118.40h1.2M332.5,118.40h-1.2" stroke="#222" stroke-width="0.5" fill="none"/>
<rect x="214.6" y="118.4" width="117.9" height="73.6" fill="none" stroke="#222" stroke-width="0.7"/>
<text x="208" y="121.7" font-size="9" font-family="Liberation Sans, sans-serif" text-anchor="middle">1</text>
<text x="208" y="195.3" font-size="9" font-family="Liberation Sans, sans-serif" text-anchor="middle">0</text>
<text x="278.4" y="133.8" font-size="10.8" font-family="Liberation Sans, sans-serif">(f) 48.0μs</text>
<rect x="263.06" y="204.00" width="4.28" height="74.00" fill="#60a6d6" stroke="#1b2a3a" stroke-width="0.6"/>
<path d="M220.30,204.0v1.2M220.30,278.0v-1.2M214.6,278.00h1.2M332.5,278.00h-1.2M230.99,204.0v1.2M230.99,278.0v-1.2M214.6,270.60h1.2M332.5,270.60h-1.2M241.68,204.0v1.2M241.68,278.0v-1.2M214.6,263.20h1.2M332.5,263.20h-1.2M252.37,204.0v1.2M252.37,278.0v-1.2M214.6,255.80h1.2M332.5,255.80h-1.2M263.06,204.0v1.2M263.06,278.0v-1.2M214.6,248.40h1.2M332.5,248.40h-1.2M273.75,204.0v1.2M273.75,278.0v-1.2M214.6,241.00h1.2M332.5,241.00h-1.2M284.44,204.0v1.2M284.44,278.0v-1.2M214.6,233.60h1.2M332.5,233.60h-1.2M295.13,204.0v1.2M295.13,278.0v-1.2M214.6,226.20h1.2M332.5,226.20h-1.2M305.82,204.0v1.2M305.82,278.0v-1.2M214.6,218.80h1.2M332.5,218.80h-1.2M316.51,204.0v1.2M316.51,278.0v-1.2M214.6,211.40h1.2M332.5,211.40h-1.2M327.20,204.0v1.2M327.20,278.0v-1.2M214.6,204.00h1.2M332.5,204.00h-1.2" stroke="#222" stroke-width="0.5" fill="none"/>
<rect x="214.6" y="204.0" width="117.9" height="74.0" fill="none" stroke="#222" stroke-width="0.7"/>
<text x="208" y="207.3" font-size="9" font-family="Liberation Sans, sans-serif" text-anchor="middle">1</text>
<text x="208" y="281.3" font-size="9" font-family="Liberation Sans, sans-serif" text-anchor="middle">0</text>
<text x="278.4" y="221.5" font-size="10.8" font-family="Liberation Sans, sans-serif">(g) 53.0μs</text>
<rect x="271.61" y="289.50" width="4.28" height="74.30" fill="#60a6d6" stroke="#1b2a3a" stroke-width="0.6"/>
<path d="M220.30,289.5v1.2M220.30,363.8v-1.2M214.6,363.80h1.2M332.5,363.80h-1.2M230.99,289.5v1.2M230.99,363.8v-1.2M214.6,356.37h1.2M332.5,356.37h-1.2M241.68,289.5v1.2M241.68,363.8v-1.2M214.6,348.94h1.2M332.5,348.94h-1.2M252.37,289.5v1.2M252.37,363.8v-1.2M214.6,341.51h1.2M332.5,341.51h-1.2M263.06,289.5v1.2M263.06,363.8v-1.2M214.6,334.08h1.2M332.5,334.08h-1.2M273.75,289.5v1.2M273.75,363.8v-1.2M214.6,326.65h1.2M332.5,326.65h-1.2M284.44,289.5v1.2M284.44,363.8v-1.2M214.6,319.22h1.2M332.5,319.22h-1.2M295.13,289.5v1.2M295.13,363.8v-1.2M214.6,311.79h1.2M332.5,311.79h-1.2M305.82,289.5v1.2M305.82,363.8v-1.2M214.6,304.36h1.2M332.5,304.36h-1.2M316.51,289.5v1.2M316.51,363.8v-1.2M214.6,296.93h1.2M332.5,296.93h-1.2M327.20,289.5v1.2M327.20,363.8v-1.2M214.6,289.50h1.2M332.5,289.50h-1.2" stroke="#222" stroke-width="0.5" fill="none"/>
<rect x="214.6" y="289.5" width="117.9" height="74.3" fill="none" stroke="#222" stroke-width="0.7"/>
<text x="208" y="292.8" font-size="9" font-family="Liberation Sans, sans-serif" text-anchor="middle">1</text>
<text x="208" y="367.1" font-size="9" font-family="Liberation Sans, sans-serif" text-anchor="middle">0</text>
<text x="278.4" y="309.2" font-size="10.8" font-family="Liberation Sans, sans-serif">(h) 58.0μs</text>
<text x="212.6" y="23.7" font-size="9" font-family="Liberation Sans, sans-serif" textLength="20.2" lengthAdjust="spacingAndGlyphs">Edge</text>
<text x="317.4" y="23.7" font-size="9" font-family="Liberation Sans, sans-serif" textLength="16.6" lengthAdjust="spacingAndGlyphs">Axis</text>
<text x="219.6" y="373.6" font-size="8.5" font-family="Liberation Sans, sans-serif" text-anchor="middle">0</text>
<text x="326.3" y="373.6" font-size="8.5" font-family="Liberation Sans, sans-serif" text-anchor="middle">1</text>
<text transform="translate(201.2,266.5) rotate(-90)" font-size="9" font-weight="bold" font-family="Liberation Sans, sans-serif" textLength="108.3" lengthAdjust="spacingAndGlyphs">Energetic electron probability</text>
<text x="263.6" y="380.8" font-size="9.5" font-family="Liberation Serif, serif">Ψ/Ψ<tspan font-size="6.5" font-family="Liberation Sans, sans-serif" dy="1.8">axis</tspan></text>
</svg>
</body></html>
